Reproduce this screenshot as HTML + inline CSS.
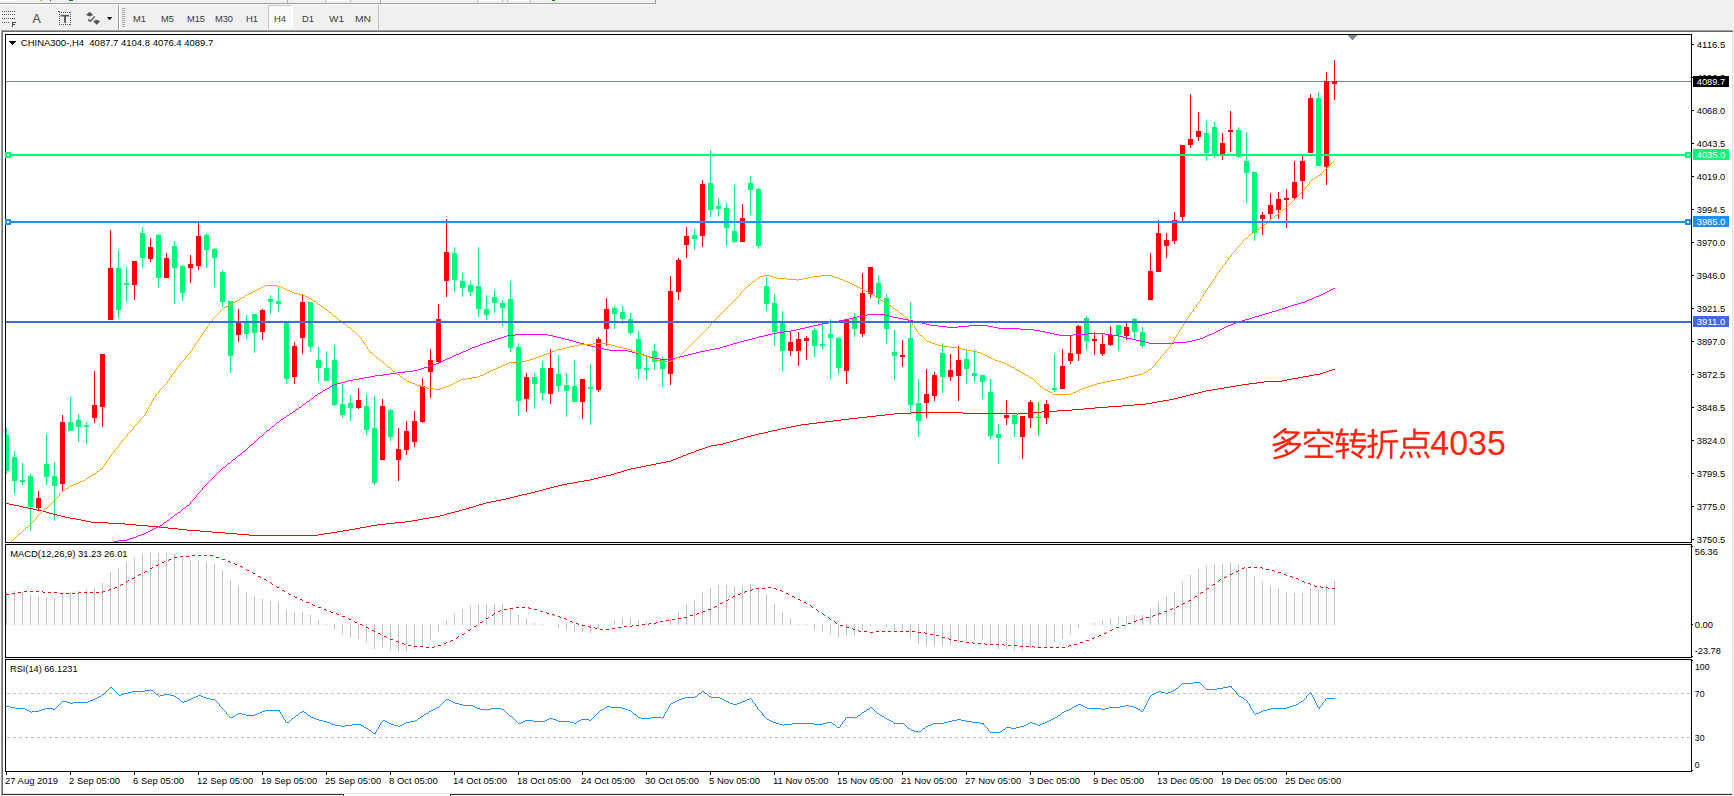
<!DOCTYPE html><html><head><meta charset="utf-8"><title>chart</title><style>html,body{margin:0;padding:0;background:#f0f0f0;overflow:hidden}svg{display:block}text{font-family:"Liberation Sans",sans-serif}</style></head><body>
<svg width="1734" height="796" viewBox="0 0 1734 796">
<rect x="0" y="0" width="1734" height="796" fill="#f0f0f0"/>
<g shape-rendering="crispEdges">
<rect x="0" y="3" width="655" height="1" fill="#a0a0a0"/>
<rect x="0" y="0" width="17" height="1" fill="#ffffff"/>
<rect x="325" y="0" width="25" height="1" fill="#ffffff"/><rect x="325" y="0" width="1" height="2" fill="#b8b8b8"/><rect x="350" y="0" width="1" height="2" fill="#b8b8b8"/>
<rect x="477" y="0" width="25" height="1" fill="#ffffff"/><rect x="477" y="0" width="1" height="2" fill="#b8b8b8"/><rect x="502" y="0" width="1" height="2" fill="#b8b8b8"/>
<rect x="507" y="0" width="23" height="1" fill="#ffffff"/><rect x="507" y="0" width="1" height="2" fill="#b8b8b8"/><rect x="530" y="0" width="1" height="2" fill="#b8b8b8"/>
<rect x="0" y="4" width="655" height="1" fill="#fafafa"/>
<rect x="40" y="0" width="2" height="1" fill="#e0b040"/><rect x="50" y="0" width="1" height="1" fill="#555"/>
<rect x="69" y="0" width="4" height="1" fill="#008000"/>
<rect x="552" y="0" width="3" height="1" fill="#008000"/>
<rect x="655" y="0" width="1" height="4" fill="#a0a0a0"/>
<rect x="287" y="0" width="1" height="3" fill="#b0b0b0"/>
<rect x="380" y="0" width="1" height="3" fill="#b0b0b0"/>
</g>
<g shape-rendering="crispEdges">
<rect x="0" y="30" width="1733" height="764" fill="#ffffff"/>
<rect x="1" y="30" width="1732" height="1" fill="#a0a0a0"/>
<rect x="2" y="31" width="1731" height="1" fill="#696969"/>
<rect x="0" y="30" width="1" height="766" fill="#f8f8f8"/>
<rect x="1" y="31" width="1" height="765" fill="#a0a0a0"/>
<rect x="2" y="32" width="1" height="763" fill="#696969"/>
<rect x="1733" y="30" width="1" height="766" fill="#f4f4f4"/>
<rect x="1732" y="32" width="1" height="762" fill="#e3e3e3"/>
<rect x="3" y="793" width="1729" height="1" fill="#e4e4e4"/>
<rect x="3" y="794" width="1729" height="2" fill="#f4f4f4"/>
<rect x="2" y="794" width="342" height="1" fill="#303030"/>
<rect x="343" y="794" width="1" height="2" fill="#303030"/>
<rect x="450" y="794" width="1282" height="1" fill="#303030"/>
<rect x="450" y="794" width="1" height="2" fill="#303030"/>
<rect x="344" y="794" width="106" height="2" fill="#ffffff"/>
</g>
<g shape-rendering="crispEdges">
<rect x="118" y="5" width="1" height="25" fill="#a0a0a0"/><rect x="119" y="5" width="1" height="25" fill="#ffffff"/>
<rect x="122" y="8" width="3" height="1" fill="#a8a8a8"/>
<rect x="122" y="10" width="3" height="1" fill="#a8a8a8"/>
<rect x="122" y="12" width="3" height="1" fill="#a8a8a8"/>
<rect x="122" y="14" width="3" height="1" fill="#a8a8a8"/>
<rect x="122" y="16" width="3" height="1" fill="#a8a8a8"/>
<rect x="122" y="18" width="3" height="1" fill="#a8a8a8"/>
<rect x="122" y="20" width="3" height="1" fill="#a8a8a8"/>
<rect x="122" y="22" width="3" height="1" fill="#a8a8a8"/>
<rect x="122" y="24" width="3" height="1" fill="#a8a8a8"/>
<rect x="122" y="26" width="3" height="1" fill="#a8a8a8"/>
<rect x="378" y="5" width="1" height="25" fill="#c0c0c0"/>
<rect x="268" y="5" width="25" height="24" fill="#f9f9f9"/><rect x="268" y="5" width="25" height="1" fill="#c8c8c8"/><rect x="268" y="5" width="1" height="24" fill="#c8c8c8"/><rect x="292" y="5" width="1" height="24" fill="#ffffff"/>
<rect x="2" y="11" width="1" height="1" fill="#555"/>
<rect x="4" y="11" width="1" height="1" fill="#555"/>
<rect x="6" y="11" width="1" height="1" fill="#555"/>
<rect x="8" y="11" width="1" height="1" fill="#555"/>
<rect x="10" y="11" width="1" height="1" fill="#555"/>
<rect x="12" y="11" width="1" height="1" fill="#555"/>
<rect x="14" y="11" width="1" height="1" fill="#555"/>
<rect x="2" y="14" width="1" height="1" fill="#555"/>
<rect x="4" y="14" width="1" height="1" fill="#555"/>
<rect x="6" y="14" width="1" height="1" fill="#555"/>
<rect x="8" y="14" width="1" height="1" fill="#555"/>
<rect x="10" y="14" width="1" height="1" fill="#555"/>
<rect x="12" y="14" width="1" height="1" fill="#555"/>
<rect x="14" y="14" width="1" height="1" fill="#555"/>
<rect x="2" y="18" width="1" height="1" fill="#555"/>
<rect x="4" y="18" width="1" height="1" fill="#555"/>
<rect x="6" y="18" width="1" height="1" fill="#555"/>
<rect x="8" y="18" width="1" height="1" fill="#555"/>
<rect x="10" y="18" width="1" height="1" fill="#555"/>
<rect x="12" y="18" width="1" height="1" fill="#555"/>
<rect x="14" y="18" width="1" height="1" fill="#555"/>
<rect x="2" y="22" width="1" height="1" fill="#555"/>
<rect x="4" y="22" width="1" height="1" fill="#555"/>
<rect x="6" y="22" width="1" height="1" fill="#555"/>
<rect x="8" y="22" width="1" height="1" fill="#555"/>
<rect x="12" y="22" width="1" height="5" fill="#444"/><rect x="12" y="22" width="4" height="1" fill="#444"/><rect x="12" y="24" width="3" height="1" fill="#444"/>
<rect x="59" y="12" width="1" height="1" fill="#555"/><rect x="59" y="24" width="1" height="1" fill="#555"/>
<rect x="61" y="12" width="1" height="1" fill="#555"/><rect x="61" y="24" width="1" height="1" fill="#555"/>
<rect x="63" y="12" width="1" height="1" fill="#555"/><rect x="63" y="24" width="1" height="1" fill="#555"/>
<rect x="65" y="12" width="1" height="1" fill="#555"/><rect x="65" y="24" width="1" height="1" fill="#555"/>
<rect x="67" y="12" width="1" height="1" fill="#555"/><rect x="67" y="24" width="1" height="1" fill="#555"/>
<rect x="69" y="12" width="1" height="1" fill="#555"/><rect x="69" y="24" width="1" height="1" fill="#555"/>
<rect x="59" y="12" width="1" height="1" fill="#555"/><rect x="70" y="12" width="1" height="1" fill="#555"/>
<rect x="59" y="14" width="1" height="1" fill="#555"/><rect x="70" y="14" width="1" height="1" fill="#555"/>
<rect x="59" y="16" width="1" height="1" fill="#555"/><rect x="70" y="16" width="1" height="1" fill="#555"/>
<rect x="59" y="18" width="1" height="1" fill="#555"/><rect x="70" y="18" width="1" height="1" fill="#555"/>
<rect x="59" y="20" width="1" height="1" fill="#555"/><rect x="70" y="20" width="1" height="1" fill="#555"/>
<rect x="59" y="22" width="1" height="1" fill="#555"/><rect x="70" y="22" width="1" height="1" fill="#555"/>
<rect x="59" y="24" width="1" height="1" fill="#555"/><rect x="70" y="24" width="1" height="1" fill="#555"/>
<rect x="58" y="11" width="2" height="1" fill="#555"/>
</g>
<text x="32.5" y="22.7" font-size="12.6" fill="#555" stroke="#555" stroke-width="0.2" textLength="8.2" lengthAdjust="spacingAndGlyphs">A</text>
<rect x="60.8" y="14.9" width="8.3" height="1.6" fill="#555"/><rect x="64.1" y="15" width="1.9" height="7.8" fill="#555"/>
<path d="M86 15 L89.6 11.8 L93.2 15 L89.6 16.6 Z M93.2 21.2 L96.7 19.8 L100.2 21.2 L96.7 24.8 Z" fill="#555"/><path d="M88.1 19.4 L90.3 21.3 L94.8 16.4" stroke="#555" stroke-width="1.4" fill="none"/>
<path d="M106.8 17 h5.6 l-2.8 3.2 z" fill="#1a1a1a"/>
<text x="133" y="22" font-size="9.8" fill="#3c3c3c" textLength="13" lengthAdjust="spacingAndGlyphs">M1</text>
<text x="161" y="22" font-size="9.8" fill="#3c3c3c" textLength="13" lengthAdjust="spacingAndGlyphs">M5</text>
<text x="187" y="22" font-size="9.8" fill="#3c3c3c" textLength="18" lengthAdjust="spacingAndGlyphs">M15</text>
<text x="215" y="22" font-size="9.8" fill="#3c3c3c" textLength="18" lengthAdjust="spacingAndGlyphs">M30</text>
<text x="246" y="22" font-size="9.8" fill="#3c3c3c" textLength="12" lengthAdjust="spacingAndGlyphs">H1</text>
<text x="274" y="22" font-size="9.8" fill="#3c3c3c" textLength="12" lengthAdjust="spacingAndGlyphs">H4</text>
<text x="302" y="22" font-size="9.8" fill="#3c3c3c" textLength="12" lengthAdjust="spacingAndGlyphs">D1</text>
<text x="329" y="22" font-size="9.8" fill="#3c3c3c" textLength="15" lengthAdjust="spacingAndGlyphs">W1</text>
<text x="355" y="22" font-size="9.8" fill="#3c3c3c" textLength="16" lengthAdjust="spacingAndGlyphs">MN</text>
<g shape-rendering="crispEdges">
<rect x="5" y="34" width="1687" height="1" fill="#000"/>
<rect x="5" y="34" width="1" height="738" fill="#000"/>
<rect x="1691" y="34" width="1" height="738" fill="#000"/>
<rect x="5" y="542" width="1687" height="1" fill="#000"/>
<rect x="5" y="543" width="1687" height="1" fill="#f0f0f0"/>
<rect x="5" y="544" width="1687" height="1" fill="#000"/>
<rect x="5" y="657" width="1687" height="1" fill="#000"/>
<rect x="5" y="658" width="1687" height="1" fill="#f0f0f0"/>
<rect x="5" y="659" width="1687" height="1" fill="#000"/>
<rect x="5" y="771" width="1687" height="1" fill="#000"/>
<rect x="1692" y="44" width="2" height="1" fill="#000"/>
<rect x="1692" y="77" width="2" height="1" fill="#000"/>
<rect x="1692" y="110" width="2" height="1" fill="#000"/>
<rect x="1692" y="143" width="2" height="1" fill="#000"/>
<rect x="1692" y="176" width="2" height="1" fill="#000"/>
<rect x="1692" y="209" width="2" height="1" fill="#000"/>
<rect x="1692" y="242" width="2" height="1" fill="#000"/>
<rect x="1692" y="275" width="2" height="1" fill="#000"/>
<rect x="1692" y="308" width="2" height="1" fill="#000"/>
<rect x="1692" y="341" width="2" height="1" fill="#000"/>
<rect x="1692" y="374" width="2" height="1" fill="#000"/>
<rect x="1692" y="407" width="2" height="1" fill="#000"/>
<rect x="1692" y="440" width="2" height="1" fill="#000"/>
<rect x="1692" y="473" width="2" height="1" fill="#000"/>
<rect x="1692" y="506" width="2" height="1" fill="#000"/>
<rect x="1692" y="539" width="2" height="1" fill="#000"/>
<rect x="1692" y="546" width="1" height="1" fill="#000"/>
<rect x="1692" y="624" width="1" height="1" fill="#000"/>
<rect x="1692" y="656" width="1" height="1" fill="#000"/>
<rect x="1692" y="660" width="1" height="1" fill="#000"/>
<rect x="1692" y="770" width="1" height="1" fill="#000"/>
<rect x="6" y="772" width="1" height="3" fill="#000"/>
<rect x="70" y="772" width="1" height="3" fill="#000"/>
<rect x="134" y="772" width="1" height="3" fill="#000"/>
<rect x="198" y="772" width="1" height="3" fill="#000"/>
<rect x="262" y="772" width="1" height="3" fill="#000"/>
<rect x="326" y="772" width="1" height="3" fill="#000"/>
<rect x="390" y="772" width="1" height="3" fill="#000"/>
<rect x="454" y="772" width="1" height="3" fill="#000"/>
<rect x="518" y="772" width="1" height="3" fill="#000"/>
<rect x="582" y="772" width="1" height="3" fill="#000"/>
<rect x="646" y="772" width="1" height="3" fill="#000"/>
<rect x="710" y="772" width="1" height="3" fill="#000"/>
<rect x="774" y="772" width="1" height="3" fill="#000"/>
<rect x="838" y="772" width="1" height="3" fill="#000"/>
<rect x="902" y="772" width="1" height="3" fill="#000"/>
<rect x="966" y="772" width="1" height="3" fill="#000"/>
<rect x="1030" y="772" width="1" height="3" fill="#000"/>
<rect x="1094" y="772" width="1" height="3" fill="#000"/>
<rect x="1158" y="772" width="1" height="3" fill="#000"/>
<rect x="1222" y="772" width="1" height="3" fill="#000"/>
<rect x="1286" y="772" width="1" height="3" fill="#000"/>
</g>
<clipPath id="cm"><rect x="6" y="35" width="1685" height="507"/></clipPath>
<g shape-rendering="crispEdges" clip-path="url(#cm)">
<rect x="6" y="81" width="1685" height="1" fill="#778899"/>
</g>
<g shape-rendering="crispEdges" clip-path="url(#cm)">
<rect x="6" y="428" width="1" height="46" fill="#00F977"/><rect x="4" y="435" width="5" height="36" fill="#00F977"/>
<rect x="14" y="451" width="1" height="43" fill="#00F977"/><rect x="12" y="457" width="5" height="24" fill="#00F977"/>
<rect x="22" y="463" width="1" height="22" fill="#00F977"/><rect x="20" y="480" width="5" height="2" fill="#00F977"/>
<rect x="30" y="474" width="1" height="57" fill="#00F977"/><rect x="28" y="476" width="5" height="31" fill="#00F977"/>
<rect x="38" y="491" width="1" height="19" fill="#FF0000"/><rect x="36" y="498" width="5" height="10" fill="#FF0000"/>
<rect x="46" y="434" width="1" height="51" fill="#00F977"/><rect x="44" y="464" width="5" height="13" fill="#00F977"/>
<rect x="54" y="462" width="1" height="59" fill="#00F977"/><rect x="52" y="476" width="5" height="10" fill="#00F977"/>
<rect x="62" y="415" width="1" height="76" fill="#FF0000"/><rect x="60" y="422" width="5" height="62" fill="#FF0000"/>
<rect x="70" y="397" width="1" height="34" fill="#00F977"/><rect x="68" y="422" width="5" height="9" fill="#00F977"/>
<rect x="78" y="414" width="1" height="28" fill="#00F977"/><rect x="76" y="420" width="5" height="7" fill="#00F977"/>
<rect x="86" y="422" width="1" height="22" fill="#00F977"/><rect x="84" y="425" width="5" height="2" fill="#00F977"/>
<rect x="94" y="371" width="1" height="52" fill="#FF0000"/><rect x="92" y="405" width="5" height="13" fill="#FF0000"/>
<rect x="102" y="354" width="1" height="73" fill="#FF0000"/><rect x="100" y="354" width="5" height="53" fill="#FF0000"/>
<rect x="110" y="230" width="1" height="90" fill="#FF0000"/><rect x="108" y="268" width="5" height="52" fill="#FF0000"/>
<rect x="118" y="250" width="1" height="68" fill="#00F977"/><rect x="116" y="268" width="5" height="42" fill="#00F977"/>
<rect x="126" y="267" width="1" height="35" fill="#00F977"/><rect x="124" y="283" width="5" height="2" fill="#00F977"/>
<rect x="134" y="261" width="1" height="39" fill="#FF0000"/><rect x="132" y="261" width="5" height="24" fill="#FF0000"/>
<rect x="142" y="227" width="1" height="41" fill="#00F977"/><rect x="140" y="233" width="5" height="25" fill="#00F977"/>
<rect x="150" y="238" width="1" height="24" fill="#FF0000"/><rect x="148" y="247" width="5" height="12" fill="#FF0000"/>
<rect x="158" y="234" width="1" height="54" fill="#00F977"/><rect x="156" y="235" width="5" height="43" fill="#00F977"/>
<rect x="166" y="253" width="1" height="25" fill="#FF0000"/><rect x="164" y="258" width="5" height="20" fill="#FF0000"/>
<rect x="174" y="241" width="1" height="63" fill="#00F977"/><rect x="172" y="246" width="5" height="22" fill="#00F977"/>
<rect x="182" y="265" width="1" height="36" fill="#00F977"/><rect x="180" y="266" width="5" height="27" fill="#00F977"/>
<rect x="190" y="255" width="1" height="28" fill="#FF0000"/><rect x="188" y="264" width="5" height="4" fill="#FF0000"/>
<rect x="198" y="222" width="1" height="48" fill="#FF0000"/><rect x="196" y="236" width="5" height="30" fill="#FF0000"/>
<rect x="206" y="233" width="1" height="35" fill="#00F977"/><rect x="204" y="235" width="5" height="15" fill="#00F977"/>
<rect x="214" y="248" width="1" height="39" fill="#00F977"/><rect x="212" y="249" width="5" height="9" fill="#00F977"/>
<rect x="222" y="270" width="1" height="37" fill="#00F977"/><rect x="220" y="272" width="5" height="30" fill="#00F977"/>
<rect x="230" y="301" width="1" height="72" fill="#00F977"/><rect x="228" y="301" width="5" height="55" fill="#00F977"/>
<rect x="238" y="309" width="1" height="33" fill="#FF0000"/><rect x="236" y="323" width="5" height="12" fill="#FF0000"/>
<rect x="246" y="315" width="1" height="24" fill="#00F977"/><rect x="244" y="323" width="5" height="11" fill="#00F977"/>
<rect x="254" y="314" width="1" height="39" fill="#00F977"/><rect x="252" y="314" width="5" height="19" fill="#00F977"/>
<rect x="262" y="309" width="1" height="31" fill="#FF0000"/><rect x="260" y="310" width="5" height="22" fill="#FF0000"/>
<rect x="270" y="295" width="1" height="19" fill="#00F977"/><rect x="268" y="299" width="5" height="3" fill="#00F977"/>
<rect x="278" y="287" width="1" height="25" fill="#00F977"/><rect x="276" y="301" width="5" height="3" fill="#00F977"/>
<rect x="286" y="323" width="1" height="61" fill="#00F977"/><rect x="284" y="323" width="5" height="56" fill="#00F977"/>
<rect x="294" y="342" width="1" height="42" fill="#FF0000"/><rect x="292" y="346" width="5" height="31" fill="#FF0000"/>
<rect x="302" y="294" width="1" height="60" fill="#FF0000"/><rect x="300" y="302" width="5" height="36" fill="#FF0000"/>
<rect x="310" y="302" width="1" height="50" fill="#00F977"/><rect x="308" y="302" width="5" height="45" fill="#00F977"/>
<rect x="318" y="347" width="1" height="35" fill="#00F977"/><rect x="316" y="360" width="5" height="8" fill="#00F977"/>
<rect x="326" y="351" width="1" height="30" fill="#00F977"/><rect x="324" y="368" width="5" height="13" fill="#00F977"/>
<rect x="334" y="345" width="1" height="61" fill="#00F977"/><rect x="332" y="360" width="5" height="45" fill="#00F977"/>
<rect x="342" y="384" width="1" height="34" fill="#00F977"/><rect x="340" y="404" width="5" height="11" fill="#00F977"/>
<rect x="350" y="395" width="1" height="26" fill="#00F977"/><rect x="348" y="403" width="5" height="5" fill="#00F977"/>
<rect x="358" y="388" width="1" height="21" fill="#FF0000"/><rect x="356" y="400" width="5" height="8" fill="#FF0000"/>
<rect x="366" y="394" width="1" height="41" fill="#00F977"/><rect x="364" y="406" width="5" height="24" fill="#00F977"/>
<rect x="374" y="396" width="1" height="89" fill="#00F977"/><rect x="372" y="428" width="5" height="55" fill="#00F977"/>
<rect x="382" y="399" width="1" height="61" fill="#FF0000"/><rect x="380" y="406" width="5" height="54" fill="#FF0000"/>
<rect x="390" y="409" width="1" height="32" fill="#00F977"/><rect x="388" y="410" width="5" height="27" fill="#00F977"/>
<rect x="398" y="428" width="1" height="53" fill="#FF0000"/><rect x="396" y="449" width="5" height="11" fill="#FF0000"/>
<rect x="406" y="421" width="1" height="34" fill="#FF0000"/><rect x="404" y="431" width="5" height="19" fill="#FF0000"/>
<rect x="414" y="411" width="1" height="36" fill="#FF0000"/><rect x="412" y="421" width="5" height="21" fill="#FF0000"/>
<rect x="422" y="378" width="1" height="45" fill="#FF0000"/><rect x="420" y="386" width="5" height="36" fill="#FF0000"/>
<rect x="430" y="349" width="1" height="49" fill="#FF0000"/><rect x="428" y="360" width="5" height="12" fill="#FF0000"/>
<rect x="438" y="304" width="1" height="60" fill="#FF0000"/><rect x="436" y="319" width="5" height="43" fill="#FF0000"/>
<rect x="446" y="219" width="1" height="78" fill="#FF0000"/><rect x="444" y="252" width="5" height="29" fill="#FF0000"/>
<rect x="454" y="247" width="1" height="45" fill="#00F977"/><rect x="452" y="253" width="5" height="27" fill="#00F977"/>
<rect x="462" y="273" width="1" height="24" fill="#00F977"/><rect x="460" y="281" width="5" height="7" fill="#00F977"/>
<rect x="470" y="281" width="1" height="15" fill="#00F977"/><rect x="468" y="285" width="5" height="7" fill="#00F977"/>
<rect x="478" y="247" width="1" height="70" fill="#00F977"/><rect x="476" y="286" width="5" height="23" fill="#00F977"/>
<rect x="486" y="295" width="1" height="25" fill="#00F977"/><rect x="484" y="309" width="5" height="6" fill="#00F977"/>
<rect x="494" y="290" width="1" height="23" fill="#00F977"/><rect x="492" y="297" width="5" height="6" fill="#00F977"/>
<rect x="502" y="300" width="1" height="26" fill="#00F977"/><rect x="500" y="303" width="5" height="5" fill="#00F977"/>
<rect x="510" y="281" width="1" height="71" fill="#00F977"/><rect x="508" y="299" width="5" height="49" fill="#00F977"/>
<rect x="518" y="343" width="1" height="73" fill="#00F977"/><rect x="516" y="347" width="5" height="54" fill="#00F977"/>
<rect x="526" y="373" width="1" height="39" fill="#FF0000"/><rect x="524" y="377" width="5" height="22" fill="#FF0000"/>
<rect x="534" y="373" width="1" height="36" fill="#00F977"/><rect x="532" y="377" width="5" height="7" fill="#00F977"/>
<rect x="542" y="361" width="1" height="40" fill="#00F977"/><rect x="540" y="368" width="5" height="25" fill="#00F977"/>
<rect x="550" y="349" width="1" height="55" fill="#FF0000"/><rect x="548" y="368" width="5" height="26" fill="#FF0000"/>
<rect x="558" y="355" width="1" height="37" fill="#00F977"/><rect x="556" y="374" width="5" height="12" fill="#00F977"/>
<rect x="566" y="373" width="1" height="44" fill="#00F977"/><rect x="564" y="385" width="5" height="6" fill="#00F977"/>
<rect x="574" y="360" width="1" height="42" fill="#00F977"/><rect x="572" y="386" width="5" height="16" fill="#00F977"/>
<rect x="582" y="379" width="1" height="40" fill="#FF0000"/><rect x="580" y="379" width="5" height="23" fill="#FF0000"/>
<rect x="590" y="364" width="1" height="61" fill="#00F977"/><rect x="588" y="387" width="5" height="2" fill="#00F977"/>
<rect x="598" y="337" width="1" height="55" fill="#FF0000"/><rect x="596" y="339" width="5" height="51" fill="#FF0000"/>
<rect x="606" y="298" width="1" height="48" fill="#FF0000"/><rect x="604" y="309" width="5" height="20" fill="#FF0000"/>
<rect x="614" y="306" width="1" height="23" fill="#00F977"/><rect x="612" y="308" width="5" height="6" fill="#00F977"/>
<rect x="622" y="306" width="1" height="18" fill="#00F977"/><rect x="620" y="312" width="5" height="7" fill="#00F977"/>
<rect x="630" y="313" width="1" height="22" fill="#00F977"/><rect x="628" y="319" width="5" height="14" fill="#00F977"/>
<rect x="638" y="331" width="1" height="48" fill="#00F977"/><rect x="636" y="339" width="5" height="30" fill="#00F977"/>
<rect x="646" y="356" width="1" height="24" fill="#00F977"/><rect x="644" y="368" width="5" height="2" fill="#00F977"/>
<rect x="654" y="344" width="1" height="26" fill="#00F977"/><rect x="652" y="351" width="5" height="11" fill="#00F977"/>
<rect x="662" y="357" width="1" height="30" fill="#00F977"/><rect x="660" y="359" width="5" height="10" fill="#00F977"/>
<rect x="670" y="276" width="1" height="109" fill="#FF0000"/><rect x="668" y="291" width="5" height="83" fill="#FF0000"/>
<rect x="678" y="258" width="1" height="42" fill="#FF0000"/><rect x="676" y="260" width="5" height="32" fill="#FF0000"/>
<rect x="686" y="227" width="1" height="31" fill="#FF0000"/><rect x="684" y="236" width="5" height="9" fill="#FF0000"/>
<rect x="694" y="229" width="1" height="21" fill="#00F977"/><rect x="692" y="235" width="5" height="4" fill="#00F977"/>
<rect x="702" y="180" width="1" height="67" fill="#FF0000"/><rect x="700" y="184" width="5" height="52" fill="#FF0000"/>
<rect x="710" y="150" width="1" height="67" fill="#00F977"/><rect x="708" y="183" width="5" height="27" fill="#00F977"/>
<rect x="718" y="198" width="1" height="19" fill="#00F977"/><rect x="716" y="206" width="5" height="3" fill="#00F977"/>
<rect x="726" y="203" width="1" height="43" fill="#00F977"/><rect x="724" y="208" width="5" height="20" fill="#00F977"/>
<rect x="734" y="185" width="1" height="58" fill="#00F977"/><rect x="732" y="231" width="5" height="11" fill="#00F977"/>
<rect x="742" y="204" width="1" height="38" fill="#FF0000"/><rect x="740" y="218" width="5" height="24" fill="#FF0000"/>
<rect x="750" y="176" width="1" height="39" fill="#00F977"/><rect x="748" y="183" width="5" height="7" fill="#00F977"/>
<rect x="758" y="188" width="1" height="61" fill="#00F977"/><rect x="756" y="189" width="5" height="57" fill="#00F977"/>
<rect x="766" y="277" width="1" height="34" fill="#00F977"/><rect x="764" y="286" width="5" height="18" fill="#00F977"/>
<rect x="774" y="294" width="1" height="52" fill="#00F977"/><rect x="772" y="303" width="5" height="29" fill="#00F977"/>
<rect x="782" y="311" width="1" height="60" fill="#00F977"/><rect x="780" y="322" width="5" height="29" fill="#00F977"/>
<rect x="790" y="331" width="1" height="25" fill="#FF0000"/><rect x="788" y="342" width="5" height="9" fill="#FF0000"/>
<rect x="798" y="332" width="1" height="34" fill="#FF0000"/><rect x="796" y="339" width="5" height="12" fill="#FF0000"/>
<rect x="806" y="336" width="1" height="24" fill="#FF0000"/><rect x="804" y="338" width="5" height="3" fill="#FF0000"/>
<rect x="814" y="327" width="1" height="30" fill="#00F977"/><rect x="812" y="330" width="5" height="16" fill="#00F977"/>
<rect x="822" y="323" width="1" height="26" fill="#00F977"/><rect x="820" y="344" width="5" height="2" fill="#00F977"/>
<rect x="830" y="319" width="1" height="60" fill="#00F977"/><rect x="828" y="334" width="5" height="4" fill="#00F977"/>
<rect x="838" y="337" width="1" height="37" fill="#00F977"/><rect x="836" y="338" width="5" height="30" fill="#00F977"/>
<rect x="846" y="319" width="1" height="65" fill="#FF0000"/><rect x="844" y="319" width="5" height="52" fill="#FF0000"/>
<rect x="854" y="313" width="1" height="24" fill="#00F977"/><rect x="852" y="318" width="5" height="11" fill="#00F977"/>
<rect x="862" y="273" width="1" height="64" fill="#FF0000"/><rect x="860" y="293" width="5" height="41" fill="#FF0000"/>
<rect x="870" y="267" width="1" height="31" fill="#FF0000"/><rect x="868" y="267" width="5" height="27" fill="#FF0000"/>
<rect x="878" y="275" width="1" height="30" fill="#00F977"/><rect x="876" y="283" width="5" height="15" fill="#00F977"/>
<rect x="886" y="294" width="1" height="50" fill="#00F977"/><rect x="884" y="298" width="5" height="31" fill="#00F977"/>
<rect x="894" y="330" width="1" height="50" fill="#00F977"/><rect x="892" y="352" width="5" height="4" fill="#00F977"/>
<rect x="902" y="340" width="1" height="27" fill="#FF0000"/><rect x="900" y="355" width="5" height="2" fill="#FF0000"/>
<rect x="910" y="302" width="1" height="110" fill="#00F977"/><rect x="908" y="338" width="5" height="67" fill="#00F977"/>
<rect x="918" y="379" width="1" height="58" fill="#00F977"/><rect x="916" y="403" width="5" height="18" fill="#00F977"/>
<rect x="926" y="369" width="1" height="49" fill="#FF0000"/><rect x="924" y="394" width="5" height="9" fill="#FF0000"/>
<rect x="934" y="372" width="1" height="29" fill="#FF0000"/><rect x="932" y="375" width="5" height="21" fill="#FF0000"/>
<rect x="942" y="343" width="1" height="50" fill="#00F977"/><rect x="940" y="353" width="5" height="24" fill="#00F977"/>
<rect x="950" y="354" width="1" height="27" fill="#FF0000"/><rect x="948" y="370" width="5" height="7" fill="#FF0000"/>
<rect x="958" y="346" width="1" height="55" fill="#FF0000"/><rect x="956" y="360" width="5" height="16" fill="#FF0000"/>
<rect x="966" y="350" width="1" height="34" fill="#00F977"/><rect x="964" y="359" width="5" height="10" fill="#00F977"/>
<rect x="974" y="349" width="1" height="33" fill="#00F977"/><rect x="972" y="373" width="5" height="3" fill="#00F977"/>
<rect x="982" y="375" width="1" height="24" fill="#00F977"/><rect x="980" y="375" width="5" height="7" fill="#00F977"/>
<rect x="990" y="379" width="1" height="60" fill="#00F977"/><rect x="988" y="392" width="5" height="44" fill="#00F977"/>
<rect x="998" y="424" width="1" height="40" fill="#00F977"/><rect x="996" y="434" width="5" height="4" fill="#00F977"/>
<rect x="1006" y="400" width="1" height="25" fill="#FF0000"/><rect x="1004" y="415" width="5" height="3" fill="#FF0000"/>
<rect x="1014" y="413" width="1" height="24" fill="#00F977"/><rect x="1012" y="415" width="5" height="9" fill="#00F977"/>
<rect x="1022" y="416" width="1" height="43" fill="#FF0000"/><rect x="1020" y="416" width="5" height="21" fill="#FF0000"/>
<rect x="1030" y="400" width="1" height="28" fill="#FF0000"/><rect x="1028" y="402" width="5" height="16" fill="#FF0000"/>
<rect x="1038" y="402" width="1" height="34" fill="#00E800"/><rect x="1036" y="417" width="5" height="1" fill="#00E800"/>
<rect x="1046" y="400" width="1" height="24" fill="#FF0000"/><rect x="1044" y="404" width="5" height="14" fill="#FF0000"/>
<rect x="1054" y="354" width="1" height="38" fill="#00F977"/><rect x="1052" y="388" width="5" height="2" fill="#00F977"/>
<rect x="1062" y="349" width="1" height="40" fill="#FF0000"/><rect x="1060" y="366" width="5" height="23" fill="#FF0000"/>
<rect x="1070" y="336" width="1" height="28" fill="#FF0000"/><rect x="1068" y="353" width="5" height="8" fill="#FF0000"/>
<rect x="1078" y="325" width="1" height="36" fill="#FF0000"/><rect x="1076" y="326" width="5" height="28" fill="#FF0000"/>
<rect x="1086" y="316" width="1" height="34" fill="#00F977"/><rect x="1084" y="318" width="5" height="23" fill="#00F977"/>
<rect x="1094" y="332" width="1" height="23" fill="#FF0000"/><rect x="1092" y="339" width="5" height="2" fill="#FF0000"/>
<rect x="1102" y="333" width="1" height="23" fill="#FF0000"/><rect x="1100" y="344" width="5" height="10" fill="#FF0000"/>
<rect x="1110" y="326" width="1" height="20" fill="#FF0000"/><rect x="1108" y="335" width="5" height="10" fill="#FF0000"/>
<rect x="1118" y="325" width="1" height="26" fill="#00F977"/><rect x="1116" y="325" width="5" height="10" fill="#00F977"/>
<rect x="1126" y="323" width="1" height="17" fill="#FF0000"/><rect x="1124" y="327" width="5" height="9" fill="#FF0000"/>
<rect x="1134" y="318" width="1" height="21" fill="#00F977"/><rect x="1132" y="319" width="5" height="13" fill="#00F977"/>
<rect x="1142" y="327" width="1" height="21" fill="#00F977"/><rect x="1140" y="332" width="5" height="14" fill="#00F977"/>
<rect x="1150" y="253" width="1" height="47" fill="#FF0000"/><rect x="1148" y="271" width="5" height="29" fill="#FF0000"/>
<rect x="1158" y="220" width="1" height="52" fill="#FF0000"/><rect x="1156" y="233" width="5" height="39" fill="#FF0000"/>
<rect x="1166" y="233" width="1" height="25" fill="#FF0000"/><rect x="1164" y="240" width="5" height="6" fill="#FF0000"/>
<rect x="1174" y="212" width="1" height="32" fill="#FF0000"/><rect x="1172" y="220" width="5" height="21" fill="#FF0000"/>
<rect x="1182" y="145" width="1" height="76" fill="#FF0000"/><rect x="1180" y="145" width="5" height="72" fill="#FF0000"/>
<rect x="1190" y="94" width="1" height="54" fill="#FF0000"/><rect x="1188" y="139" width="5" height="6" fill="#FF0000"/>
<rect x="1198" y="112" width="1" height="29" fill="#FF0000"/><rect x="1196" y="131" width="5" height="6" fill="#FF0000"/>
<rect x="1206" y="121" width="1" height="40" fill="#00F977"/><rect x="1204" y="133" width="5" height="20" fill="#00F977"/>
<rect x="1214" y="122" width="1" height="36" fill="#00F977"/><rect x="1212" y="127" width="5" height="27" fill="#00F977"/>
<rect x="1222" y="133" width="1" height="27" fill="#FF0000"/><rect x="1220" y="143" width="5" height="11" fill="#FF0000"/>
<rect x="1230" y="111" width="1" height="41" fill="#FF0000"/><rect x="1228" y="130" width="5" height="2" fill="#FF0000"/>
<rect x="1238" y="127" width="1" height="31" fill="#00F977"/><rect x="1236" y="130" width="5" height="27" fill="#00F977"/>
<rect x="1246" y="132" width="1" height="71" fill="#00F977"/><rect x="1244" y="161" width="5" height="12" fill="#00F977"/>
<rect x="1254" y="172" width="1" height="69" fill="#00F977"/><rect x="1252" y="172" width="5" height="61" fill="#00F977"/>
<rect x="1262" y="212" width="1" height="23" fill="#FF0000"/><rect x="1260" y="215" width="5" height="4" fill="#FF0000"/>
<rect x="1270" y="193" width="1" height="27" fill="#FF0000"/><rect x="1268" y="205" width="5" height="9" fill="#FF0000"/>
<rect x="1278" y="192" width="1" height="27" fill="#FF0000"/><rect x="1276" y="199" width="5" height="11" fill="#FF0000"/>
<rect x="1286" y="189" width="1" height="39" fill="#FF0000"/><rect x="1284" y="198" width="5" height="2" fill="#FF0000"/>
<rect x="1294" y="161" width="1" height="39" fill="#FF0000"/><rect x="1292" y="182" width="5" height="16" fill="#FF0000"/>
<rect x="1302" y="156" width="1" height="43" fill="#FF0000"/><rect x="1300" y="161" width="5" height="20" fill="#FF0000"/>
<rect x="1310" y="94" width="1" height="59" fill="#FF0000"/><rect x="1308" y="98" width="5" height="55" fill="#FF0000"/>
<rect x="1318" y="92" width="1" height="74" fill="#00F977"/><rect x="1316" y="98" width="5" height="68" fill="#00F977"/>
<rect x="1326" y="72" width="1" height="113" fill="#FF0000"/><rect x="1324" y="81" width="5" height="86" fill="#FF0000"/>
<rect x="1334" y="60" width="1" height="40" fill="#FF0000"/><rect x="1332" y="81" width="5" height="3" fill="#FF0000"/>
</g>
<g clip-path="url(#cm)" shape-rendering="crispEdges">
<path d="M1332 369h3v1h-3zM1329 370h3v1h-3zM1326 371h3v1h-3zM1323 372h3v1h-3zM1320 373h3v1h-3zM1314 374h6v1h-6zM1309 375h5v1h-5zM1303 376h6v1h-6zM1298 377h5v1h-5zM1292 378h6v1h-6zM1287 379h5v1h-5zM1282 380h5v1h-5zM1264 381h18v1h-18zM1257 382h7v1h-7zM1249 383h8v1h-8zM1242 384h7v1h-7zM1236 385h6v1h-6zM1230 386h6v1h-6zM1224 387h6v1h-6zM1218 388h6v1h-6zM1212 389h6v1h-6zM1206 390h6v1h-6zM1202 391h4v1h-4zM1198 392h4v1h-4zM1194 393h4v1h-4zM1190 394h4v1h-4zM1186 395h4v1h-4zM1182 396h4v1h-4zM1178 397h4v1h-4zM1174 398h4v1h-4zM1169 399h5v1h-5zM1163 400h6v1h-6zM1157 401h6v1h-6zM1152 402h5v1h-5zM1146 403h6v1h-6zM1134 404h12v1h-12zM1122 405h12v1h-12zM1108 406h14v1h-14zM1095 407h13v1h-13zM1084 408h11v1h-11zM1072 409h12v1h-12zM1057 410h15v1h-15zM1042 411h15v1h-15zM911 412h52v1h-52zM1029 412h13v1h-13zM894 413h17v1h-17zM963 413h54v1h-54zM1018 413h11v1h-11zM885 414h9v1h-9zM1017 414h1v1h-1zM876 415h9v1h-9zM867 416h9v1h-9zM858 417h9v1h-9zM849 418h9v1h-9zM841 419h8v1h-8zM833 420h8v1h-8zM825 421h8v1h-8zM817 422h8v1h-8zM809 423h8v1h-8zM801 424h8v1h-8zM796 425h5v1h-5zM791 426h5v1h-5zM786 427h5v1h-5zM781 428h5v1h-5zM777 429h4v1h-4zM772 430h5v1h-5zM768 431h4v1h-4zM764 432h4v1h-4zM759 433h5v1h-5zM755 434h4v1h-4zM751 435h4v1h-4zM747 436h4v1h-4zM744 437h3v1h-3zM740 438h4v1h-4zM737 439h3v1h-3zM733 440h4v1h-4zM730 441h3v1h-3zM726 442h4v1h-4zM723 443h3v1h-3zM717 444h6v1h-6zM711 445h6v1h-6zM708 446h3v1h-3zM705 447h3v1h-3zM702 448h3v1h-3zM699 449h3v1h-3zM696 450h3v1h-3zM694 451h2v1h-2zM691 452h3v1h-3zM688 453h3v1h-3zM686 454h2v1h-2zM683 455h3v1h-3zM681 456h2v1h-2zM678 457h3v1h-3zM676 458h2v1h-2zM673 459h3v1h-3zM671 460h2v1h-2zM666 461h5v1h-5zM661 462h5v1h-5zM656 463h5v1h-5zM651 464h5v1h-5zM646 465h5v1h-5zM641 466h5v1h-5zM636 467h5v1h-5zM631 468h5v1h-5zM627 469h4v1h-4zM624 470h3v1h-3zM621 471h3v1h-3zM617 472h4v1h-4zM614 473h3v1h-3zM611 474h3v1h-3zM606 475h5v1h-5zM602 476h4v1h-4zM598 477h4v1h-4zM594 478h4v1h-4zM590 479h4v1h-4zM584 480h6v1h-6zM578 481h6v1h-6zM573 482h5v1h-5zM567 483h6v1h-6zM562 484h5v1h-5zM558 485h4v1h-4zM554 486h4v1h-4zM550 487h4v1h-4zM546 488h4v1h-4zM543 489h3v1h-3zM539 490h4v1h-4zM535 491h4v1h-4zM531 492h4v1h-4zM527 493h4v1h-4zM522 494h5v1h-5zM518 495h4v1h-4zM514 496h4v1h-4zM510 497h4v1h-4zM506 498h4v1h-4zM501 499h5v1h-5zM496 500h5v1h-5zM491 501h5v1h-5zM486 502h5v1h-5zM6 503h3v1h-3zM483 503h3v1h-3zM9 504h5v1h-5zM479 504h4v1h-4zM14 505h5v1h-5zM476 505h3v1h-3zM19 506h4v1h-4zM473 506h3v1h-3zM23 507h5v1h-5zM469 507h4v1h-4zM28 508h5v1h-5zM466 508h3v1h-3zM33 509h4v1h-4zM462 509h4v1h-4zM37 510h5v1h-5zM459 510h3v1h-3zM42 511h4v1h-4zM455 511h4v1h-4zM46 512h3v1h-3zM451 512h4v1h-4zM49 513h4v1h-4zM447 513h4v1h-4zM53 514h4v1h-4zM444 514h3v1h-3zM57 515h4v1h-4zM440 515h4v1h-4zM61 516h4v1h-4zM435 516h5v1h-5zM65 517h5v1h-5zM429 517h6v1h-6zM70 518h6v1h-6zM423 518h6v1h-6zM76 519h5v1h-5zM418 519h5v1h-5zM81 520h5v1h-5zM412 520h6v1h-6zM86 521h5v1h-5zM405 521h7v1h-7zM91 522h17v1h-17zM395 522h10v1h-10zM108 523h17v1h-17zM386 523h9v1h-9zM125 524h11v1h-11zM377 524h9v1h-9zM136 525h12v1h-12zM371 525h6v1h-6zM148 526h11v1h-11zM366 526h5v1h-5zM159 527h9v1h-9zM360 527h6v1h-6zM168 528h10v1h-10zM355 528h5v1h-5zM178 529h9v1h-9zM349 529h6v1h-6zM187 530h13v1h-13zM343 530h6v1h-6zM200 531h12v1h-12zM337 531h6v1h-6zM212 532h13v1h-13zM331 532h6v1h-6zM225 533h12v1h-12zM324 533h7v1h-7zM237 534h12v1h-12zM318 534h6v1h-6zM249 535h69v1h-69z" fill="#FF0000"/>
<path d="M1333 288h2v1h-2zM1331 289h2v1h-2zM1329 290h2v1h-2zM1327 291h2v1h-2zM1325 292h2v1h-2zM1323 293h2v1h-2zM1321 294h2v1h-2zM1319 295h2v1h-2zM1316 296h3v1h-3zM1314 297h2v1h-2zM1312 298h2v1h-2zM1309 299h3v1h-3zM1307 300h2v1h-2zM1305 301h2v1h-2zM1301 302h4v1h-4zM1298 303h3v1h-3zM1294 304h4v1h-4zM1291 305h3v1h-3zM1288 306h3v1h-3zM1285 307h3v1h-3zM1282 308h3v1h-3zM1279 309h3v1h-3zM1276 310h3v1h-3zM1272 311h4v1h-4zM1269 312h3v1h-3zM1265 313h4v1h-4zM867 314h18v1h-18zM1262 314h3v1h-3zM862 315h5v1h-5zM885 315h4v1h-4zM1259 315h3v1h-3zM857 316h5v1h-5zM889 316h4v1h-4zM1255 316h4v1h-4zM853 317h4v1h-4zM893 317h5v1h-5zM1252 317h3v1h-3zM849 318h4v1h-4zM898 318h5v1h-5zM1249 318h3v1h-3zM845 319h4v1h-4zM903 319h5v1h-5zM1245 319h4v1h-4zM839 320h6v1h-6zM908 320h5v1h-5zM1242 320h3v1h-3zM833 321h6v1h-6zM913 321h4v1h-4zM1239 321h3v1h-3zM828 322h5v1h-5zM917 322h5v1h-5zM1236 322h3v1h-3zM822 323h6v1h-6zM922 323h4v1h-4zM1233 323h3v1h-3zM818 324h4v1h-4zM926 324h4v1h-4zM1231 324h2v1h-2zM813 325h5v1h-5zM930 325h8v1h-8zM969 325h19v1h-19zM1228 325h3v1h-3zM809 326h4v1h-4zM938 326h9v1h-9zM958 326h11v1h-11zM988 326h5v1h-5zM1226 326h2v1h-2zM805 327h4v1h-4zM947 327h11v1h-11zM993 327h5v1h-5zM1224 327h2v1h-2zM800 328h5v1h-5zM998 328h22v1h-22zM1222 328h2v1h-2zM796 329h4v1h-4zM1020 329h14v1h-14zM1220 329h2v1h-2zM791 330h5v1h-5zM1034 330h6v1h-6zM1218 330h2v1h-2zM784 331h7v1h-7zM1040 331h5v1h-5zM1216 331h2v1h-2zM777 332h7v1h-7zM1045 332h5v1h-5zM1214 332h2v1h-2zM772 333h5v1h-5zM1050 333h4v1h-4zM1088 333h17v1h-17zM1212 333h2v1h-2zM515 334h33v1h-33zM768 334h4v1h-4zM1054 334h5v1h-5zM1073 334h15v1h-15zM1105 334h7v1h-7zM1209 334h3v1h-3zM507 335h8v1h-8zM548 335h5v1h-5zM764 335h4v1h-4zM1059 335h14v1h-14zM1112 335h7v1h-7zM1207 335h2v1h-2zM504 336h3v1h-3zM553 336h4v1h-4zM759 336h5v1h-5zM1119 336h4v1h-4zM1205 336h2v1h-2zM501 337h3v1h-3zM557 337h4v1h-4zM756 337h3v1h-3zM1123 337h4v1h-4zM1203 337h2v1h-2zM498 338h3v1h-3zM561 338h4v1h-4zM752 338h4v1h-4zM1127 338h5v1h-5zM1200 338h3v1h-3zM495 339h3v1h-3zM565 339h4v1h-4zM748 339h4v1h-4zM1132 339h4v1h-4zM1196 339h4v1h-4zM492 340h3v1h-3zM569 340h4v1h-4zM744 340h4v1h-4zM1136 340h5v1h-5zM1192 340h4v1h-4zM489 341h3v1h-3zM573 341h3v1h-3zM740 341h4v1h-4zM1141 341h4v1h-4zM1187 341h5v1h-5zM486 342h3v1h-3zM576 342h4v1h-4zM737 342h3v1h-3zM1145 342h4v1h-4zM1174 342h13v1h-13zM483 343h3v1h-3zM580 343h4v1h-4zM733 343h4v1h-4zM1149 343h25v1h-25zM480 344h3v1h-3zM584 344h3v1h-3zM730 344h3v1h-3zM478 345h2v1h-2zM587 345h4v1h-4zM727 345h3v1h-3zM475 346h3v1h-3zM591 346h4v1h-4zM723 346h4v1h-4zM472 347h3v1h-3zM595 347h4v1h-4zM720 347h3v1h-3zM470 348h2v1h-2zM599 348h5v1h-5zM715 348h5v1h-5zM468 349h2v1h-2zM604 349h5v1h-5zM710 349h5v1h-5zM466 350h2v1h-2zM609 350h19v1h-19zM705 350h5v1h-5zM463 351h3v1h-3zM628 351h4v1h-4zM700 351h5v1h-5zM461 352h2v1h-2zM632 352h4v1h-4zM696 352h4v1h-4zM459 353h2v1h-2zM636 353h4v1h-4zM692 353h4v1h-4zM456 354h3v1h-3zM640 354h4v1h-4zM688 354h4v1h-4zM454 355h2v1h-2zM644 355h3v1h-3zM684 355h4v1h-4zM452 356h2v1h-2zM647 356h3v1h-3zM680 356h4v1h-4zM450 357h2v1h-2zM650 357h3v1h-3zM676 357h4v1h-4zM447 358h3v1h-3zM653 358h7v1h-7zM669 358h7v1h-7zM445 359h2v1h-2zM660 359h9v1h-9zM443 360h2v1h-2zM441 361h2v1h-2zM438 362h3v1h-3zM436 363h2v1h-2zM433 364h3v1h-3zM430 365h3v1h-3zM428 366h2v1h-2zM424 367h4v1h-4zM421 368h3v1h-3zM418 369h3v1h-3zM413 370h5v1h-5zM405 371h8v1h-8zM397 372h8v1h-8zM390 373h7v1h-7zM383 374h7v1h-7zM375 375h8v1h-8zM370 376h5v1h-5zM364 377h6v1h-6zM359 378h5v1h-5zM353 379h6v1h-6zM348 380h5v1h-5zM345 381h3v1h-3zM341 382h4v1h-4zM337 383h4v1h-4zM334 384h3v1h-3zM332 385h2v1h-2zM330 386h2v1h-2zM329 387h1v1h-1zM327 388h2v1h-2zM325 389h2v1h-2zM323 390h2v1h-2zM322 391h1v1h-1zM320 392h2v1h-2zM318 393h2v1h-2zM317 394h1v1h-1zM315 395h2v1h-2zM314 396h1v1h-1zM313 397h1v1h-1zM311 398h2v1h-2zM310 399h1v1h-1zM309 400h1v1h-1zM307 401h2v1h-2zM306 402h1v1h-1zM305 403h1v1h-1zM303 404h2v1h-2zM302 405h1v1h-1zM301 406h1v1h-1zM299 407h2v1h-2zM298 408h1v1h-1zM296 409h2v1h-2zM295 410h1v1h-1zM293 411h2v1h-2zM292 412h1v1h-1zM290 413h2v1h-2zM289 414h1v1h-1zM287 415h2v1h-2zM286 416h1v1h-1zM284 417h2v1h-2zM283 418h1v1h-1zM281 419h2v1h-2zM280 420h1v1h-1zM279 421h1v1h-1zM277 422h2v1h-2zM276 423h1v1h-1zM275 424h1v1h-1zM274 425h1v1h-1zM272 426h2v1h-2zM271 427h1v1h-1zM270 428h1v1h-1zM269 429h1v1h-1zM267 430h2v1h-2zM266 431h1v1h-1zM265 432h1v1h-1zM264 433h1v1h-1zM263 434h1v1h-1zM262 435h1v1h-1zM260 436h2v1h-2zM259 437h1v1h-1zM258 438h1v1h-1zM257 439h1v1h-1zM256 440h1v1h-1zM255 441h1v1h-1zM254 442h1v1h-1zM253 443h1v1h-1zM251 444h2v1h-2zM250 445h1v1h-1zM249 446h1v1h-1zM248 447h1v1h-1zM247 448h1v1h-1zM246 449h1v1h-1zM245 450h1v1h-1zM243 451h2v1h-2zM242 452h1v1h-1zM241 453h1v1h-1zM240 454h1v1h-1zM238 455h2v1h-2zM237 456h1v1h-1zM236 457h1v1h-1zM235 458h1v1h-1zM233 459h2v1h-2zM232 460h1v1h-1zM231 461h1v1h-1zM230 462h1v1h-1zM228 463h2v1h-2zM227 464h1v1h-1zM226 465h1v1h-1zM225 466h1v1h-1zM223 467h2v1h-2zM222 468h1v1h-1zM221 469h1v1h-1zM220 470h1v1h-1zM219 471h1v1h-1zM218 472h1v1h-1zM217 473h1v1h-1zM216 474h1v1h-1zM215 475h1v1h-1zM214 476h1v1h-1zM213 477h1v1h-1zM212 478h1v1h-1zM211 479h1v1h-1zM210 480h1v1h-1zM209 481h1v1h-1zM208 482h1v1h-1zM207 483h1v1h-1zM206 484h1v1h-1zM205 485h1v1h-1zM204 486h1v1h-1zM203 487h1v1h-1zM202 488h1v2h-1zM201 490h1v1h-1zM200 491h1v1h-1zM199 492h1v1h-1zM198 493h1v1h-1zM197 494h1v1h-1zM196 495h1v2h-1zM195 497h1v1h-1zM194 498h1v1h-1zM193 499h1v1h-1zM192 500h1v1h-1zM191 501h1v1h-1zM190 502h1v2h-1zM189 504h1v1h-1zM187 505h2v1h-2zM186 506h1v1h-1zM185 507h1v1h-1zM183 508h2v1h-2zM182 509h1v1h-1zM181 510h1v1h-1zM180 511h1v1h-1zM178 512h2v1h-2zM177 513h1v1h-1zM175 514h2v1h-2zM174 515h1v1h-1zM173 516h1v1h-1zM171 517h2v1h-2zM170 518h1v1h-1zM169 519h1v1h-1zM167 520h2v1h-2zM166 521h1v1h-1zM164 522h2v1h-2zM163 523h1v1h-1zM162 524h1v1h-1zM160 525h2v1h-2zM158 526h2v1h-2zM156 527h2v1h-2zM154 528h2v1h-2zM152 529h2v1h-2zM150 530h2v1h-2zM148 531h2v1h-2zM146 532h2v1h-2zM144 533h2v1h-2zM141 534h3v1h-3zM138 535h3v1h-3zM136 536h2v1h-2zM133 537h3v1h-3zM130 538h3v1h-3zM127 539h3v1h-3zM118 540h9v1h-9zM114 541h4v1h-4z" fill="#FF00FF"/>
<path d="M1333 161h1v1h-1zM1332 162h1v1h-1zM1331 163h1v1h-1zM1330 164h1v1h-1zM1329 165h1v1h-1zM1328 166h1v1h-1zM1327 167h1v1h-1zM1326 168h1v1h-1zM1325 169h1v1h-1zM1324 170h1v1h-1zM1323 171h1v1h-1zM1322 172h1v1h-1zM1321 173h1v2h-1zM1320 174h1v1h-1zM1318 175h2v1h-2zM1317 176h1v1h-1zM1315 177h2v1h-2zM1314 178h1v1h-1zM1312 179h2v1h-2zM1311 180h1v1h-1zM1310 181h1v1h-1zM1309 182h1v2h-1zM1308 184h1v1h-1zM1307 185h1v1h-1zM1306 186h1v1h-1zM1305 187h1v2h-1zM1304 189h1v1h-1zM1303 190h1v1h-1zM1302 191h1v1h-1zM1301 192h1v1h-1zM1300 193h1v1h-1zM1299 194h1v1h-1zM1298 195h1v1h-1zM1297 196h1v1h-1zM1296 197h1v1h-1zM1295 198h1v1h-1zM1294 199h1v1h-1zM1293 200h1v1h-1zM1292 201h1v1h-1zM1291 202h1v1h-1zM1290 203h1v1h-1zM1289 204h1v1h-1zM1288 205h1v1h-1zM1287 206h1v1h-1zM1286 207h1v1h-1zM1285 208h1v1h-1zM1283 209h2v1h-2zM1282 210h1v1h-1zM1281 211h1v1h-1zM1279 212h2v1h-2zM1278 213h1v1h-1zM1277 214h1v1h-1zM1275 215h2v1h-2zM1274 216h1v1h-1zM1273 217h1v1h-1zM1271 218h2v1h-2zM1270 219h1v1h-1zM1269 220h1v1h-1zM1268 221h1v1h-1zM1267 222h1v1h-1zM1266 223h1v1h-1zM1264 224h2v1h-2zM1263 225h1v1h-1zM1262 226h1v1h-1zM1260 227h2v1h-2zM1259 228h1v1h-1zM1257 229h2v1h-2zM1256 230h1v1h-1zM1254 231h2v1h-2zM1253 232h1v1h-1zM1252 233h1v1h-1zM1250 234h2v1h-2zM1249 235h1v1h-1zM1248 236h1v1h-1zM1247 237h1v1h-1zM1245 238h2v1h-2zM1244 239h1v1h-1zM1243 240h1v1h-1zM1242 241h1v2h-1zM1241 243h1v1h-1zM1240 244h1v1h-1zM1239 245h1v1h-1zM1238 246h1v1h-1zM1237 247h1v1h-1zM1236 248h1v2h-1zM1235 250h1v1h-1zM1234 251h1v1h-1zM1233 252h1v1h-1zM1232 253h1v1h-1zM1231 254h1v2h-1zM1230 256h1v1h-1zM1229 257h1v1h-1zM1228 258h1v2h-1zM1227 260h1v1h-1zM1226 261h1v1h-1zM1225 262h1v2h-1zM1224 264h1v1h-1zM1223 265h1v1h-1zM1222 266h1v2h-1zM1221 268h1v1h-1zM1220 269h1v1h-1zM1219 270h1v2h-1zM1218 272h1v1h-1zM1217 273h1v2h-1zM763 275h7v1h-7zM821 275h11v1h-11zM1216 275h1v1h-1zM760 276h3v1h-3zM770 276h3v1h-3zM813 276h8v1h-8zM832 276h3v1h-3zM1215 276h1v2h-1zM758 277h2v1h-2zM773 277h4v1h-4zM808 277h5v1h-5zM835 277h3v1h-3zM757 278h1v1h-1zM777 278h10v1h-10zM803 278h5v1h-5zM838 278h2v1h-2zM1214 278h1v1h-1zM756 279h1v1h-1zM787 279h10v1h-10zM798 279h5v1h-5zM840 279h3v1h-3zM1213 279h1v2h-1zM755 280h1v1h-1zM797 280h1v1h-1zM843 280h2v1h-2zM753 281h2v1h-2zM845 281h3v1h-3zM1212 281h1v1h-1zM752 282h1v1h-1zM848 282h2v1h-2zM1211 282h1v2h-1zM751 283h1v1h-1zM850 283h2v1h-2zM750 284h1v1h-1zM852 284h2v1h-2zM1210 284h1v1h-1zM265 285h13v1h-13zM748 285h2v1h-2zM854 285h2v1h-2zM1209 285h1v2h-1zM263 286h2v1h-2zM278 286h3v1h-3zM747 286h1v1h-1zM856 286h2v1h-2zM261 287h2v1h-2zM281 287h2v1h-2zM746 287h1v1h-1zM858 287h2v1h-2zM1208 287h1v1h-1zM259 288h2v1h-2zM283 288h2v1h-2zM745 288h1v1h-1zM860 288h2v1h-2zM1207 288h1v2h-1zM257 289h2v1h-2zM285 289h2v1h-2zM744 289h1v1h-1zM862 289h2v1h-2zM255 290h2v1h-2zM287 290h3v1h-3zM743 290h1v1h-1zM864 290h2v1h-2zM1206 290h1v1h-1zM253 291h2v1h-2zM290 291h2v1h-2zM742 291h1v1h-1zM866 291h2v1h-2zM1205 291h1v2h-1zM251 292h2v1h-2zM292 292h2v1h-2zM741 292h1v1h-1zM868 292h2v1h-2zM249 293h2v1h-2zM294 293h5v1h-5zM740 293h1v2h-1zM870 293h1v1h-1zM1204 293h1v1h-1zM247 294h2v1h-2zM299 294h4v1h-4zM871 294h2v1h-2zM1203 294h1v2h-1zM245 295h2v1h-2zM303 295h2v1h-2zM739 295h1v1h-1zM873 295h2v1h-2zM244 296h1v1h-1zM305 296h2v1h-2zM738 296h1v1h-1zM875 296h1v1h-1zM1202 296h1v2h-1zM242 297h2v1h-2zM307 297h2v1h-2zM737 297h1v1h-1zM876 297h2v1h-2zM240 298h2v1h-2zM309 298h2v1h-2zM736 298h1v1h-1zM878 298h2v1h-2zM1201 298h1v1h-1zM239 299h1v1h-1zM311 299h1v1h-1zM735 299h1v1h-1zM880 299h1v1h-1zM1200 299h1v2h-1zM237 300h2v1h-2zM312 300h2v1h-2zM734 300h1v1h-1zM881 300h2v1h-2zM235 301h2v1h-2zM314 301h2v1h-2zM733 301h1v1h-1zM883 301h2v1h-2zM1199 301h1v1h-1zM233 302h2v1h-2zM316 302h1v1h-1zM732 302h1v1h-1zM885 302h1v1h-1zM1198 302h1v2h-1zM232 303h1v1h-1zM317 303h1v1h-1zM731 303h1v1h-1zM886 303h2v1h-2zM230 304h2v1h-2zM318 304h2v1h-2zM730 304h1v1h-1zM888 304h1v1h-1zM1197 304h1v1h-1zM228 305h2v1h-2zM320 305h1v1h-1zM729 305h1v1h-1zM889 305h2v1h-2zM1196 305h1v2h-1zM226 306h2v1h-2zM321 306h2v1h-2zM728 306h1v1h-1zM891 306h1v1h-1zM224 307h2v1h-2zM323 307h1v1h-1zM727 307h1v1h-1zM892 307h1v1h-1zM1195 307h1v1h-1zM223 308h1v1h-1zM324 308h1v1h-1zM726 308h1v1h-1zM893 308h2v1h-2zM1194 308h1v1h-1zM222 309h1v1h-1zM325 309h2v1h-2zM725 309h1v1h-1zM895 309h1v1h-1zM1193 309h1v2h-1zM221 310h1v1h-1zM327 310h1v1h-1zM724 310h1v1h-1zM896 310h2v1h-2zM220 311h1v1h-1zM328 311h1v1h-1zM723 311h1v1h-1zM898 311h1v1h-1zM1192 311h1v1h-1zM219 312h1v1h-1zM329 312h2v1h-2zM722 312h1v1h-1zM899 312h1v1h-1zM1191 312h1v1h-1zM218 313h1v1h-1zM331 313h1v1h-1zM721 313h1v1h-1zM900 313h2v1h-2zM1190 313h1v2h-1zM217 314h1v1h-1zM332 314h1v1h-1zM720 314h1v1h-1zM902 314h1v1h-1zM216 315h1v1h-1zM333 315h1v1h-1zM719 315h1v1h-1zM903 315h1v1h-1zM1189 315h1v1h-1zM215 316h1v1h-1zM334 316h2v1h-2zM718 316h1v1h-1zM904 316h1v1h-1zM1188 316h1v2h-1zM214 317h1v1h-1zM336 317h1v1h-1zM717 317h1v1h-1zM905 317h2v1h-2zM213 318h1v1h-1zM337 318h1v1h-1zM716 318h1v1h-1zM907 318h1v1h-1zM1187 318h1v1h-1zM212 319h1v2h-1zM338 319h1v1h-1zM715 319h1v1h-1zM908 319h1v1h-1zM1186 319h1v2h-1zM339 320h2v1h-2zM714 320h1v1h-1zM909 320h1v1h-1zM211 321h1v1h-1zM341 321h1v1h-1zM713 321h1v1h-1zM910 321h1v1h-1zM1185 321h1v1h-1zM210 322h1v1h-1zM342 322h1v1h-1zM712 322h1v1h-1zM911 322h1v1h-1zM1184 322h1v2h-1zM209 323h1v2h-1zM343 323h2v1h-2zM711 323h1v1h-1zM912 323h1v2h-1zM345 324h1v1h-1zM710 324h1v2h-1zM1183 324h1v2h-1zM208 325h1v1h-1zM346 325h1v1h-1zM913 325h1v1h-1zM207 326h1v2h-1zM347 326h1v1h-1zM709 326h1v1h-1zM914 326h1v2h-1zM1182 326h1v1h-1zM348 327h2v1h-2zM708 327h1v1h-1zM1181 327h1v2h-1zM206 328h1v1h-1zM350 328h1v1h-1zM707 328h1v1h-1zM915 328h1v1h-1zM205 329h1v1h-1zM351 329h1v1h-1zM706 329h1v1h-1zM916 329h1v2h-1zM1180 329h1v1h-1zM204 330h1v2h-1zM352 330h1v1h-1zM705 330h1v1h-1zM1179 330h1v2h-1zM353 331h2v1h-2zM704 331h1v1h-1zM917 331h1v1h-1zM203 332h1v1h-1zM355 332h1v1h-1zM703 332h1v1h-1zM918 332h1v2h-1zM1178 332h1v2h-1zM202 333h1v2h-1zM356 333h1v1h-1zM702 333h1v1h-1zM357 334h1v1h-1zM701 334h1v1h-1zM919 334h1v1h-1zM1177 334h1v1h-1zM201 335h1v1h-1zM358 335h1v1h-1zM700 335h1v1h-1zM920 335h2v1h-2zM1176 335h1v2h-1zM200 336h1v2h-1zM359 336h1v1h-1zM699 336h1v1h-1zM922 336h1v1h-1zM360 337h1v1h-1zM698 337h1v1h-1zM923 337h1v1h-1zM1175 337h1v1h-1zM199 338h1v1h-1zM361 338h1v2h-1zM697 338h1v1h-1zM924 338h1v1h-1zM1174 338h1v2h-1zM198 339h1v2h-1zM696 339h1v1h-1zM925 339h1v1h-1zM362 340h1v1h-1zM695 340h1v1h-1zM926 340h1v1h-1zM1173 340h1v2h-1zM197 341h1v1h-1zM363 341h1v2h-1zM694 341h1v1h-1zM927 341h2v1h-2zM196 342h1v2h-1zM693 342h1v1h-1zM929 342h3v1h-3zM1172 342h1v1h-1zM364 343h1v1h-1zM593 343h14v1h-14zM692 343h1v1h-1zM932 343h3v1h-3zM1171 343h1v2h-1zM195 344h1v1h-1zM365 344h1v2h-1zM579 344h14v1h-14zM607 344h4v1h-4zM691 344h1v1h-1zM935 344h3v1h-3zM194 345h1v2h-1zM575 345h4v1h-4zM611 345h4v1h-4zM690 345h1v1h-1zM938 345h4v1h-4zM1170 345h1v2h-1zM366 346h1v1h-1zM570 346h5v1h-5zM615 346h4v1h-4zM689 346h1v1h-1zM942 346h8v1h-8zM193 347h1v1h-1zM367 347h1v2h-1zM566 347h4v1h-4zM619 347h4v1h-4zM688 347h1v1h-1zM950 347h7v1h-7zM1169 347h1v1h-1zM192 348h1v2h-1zM562 348h4v1h-4zM623 348h4v1h-4zM687 348h1v1h-1zM957 348h5v1h-5zM1168 348h1v1h-1zM368 349h1v1h-1zM557 349h5v1h-5zM627 349h3v1h-3zM686 349h1v1h-1zM962 349h5v1h-5zM1167 349h1v1h-1zM191 350h1v1h-1zM369 350h1v2h-1zM555 350h2v1h-2zM630 350h3v1h-3zM685 350h1v1h-1zM967 350h5v1h-5zM1166 350h1v1h-1zM190 351h1v2h-1zM552 351h3v1h-3zM633 351h2v1h-2zM684 351h1v1h-1zM972 351h5v1h-5zM1165 351h1v2h-1zM370 352h2v1h-2zM549 352h3v1h-3zM635 352h3v1h-3zM683 352h1v1h-1zM977 352h4v1h-4zM189 353h1v1h-1zM372 353h1v1h-1zM547 353h2v1h-2zM638 353h2v1h-2zM682 353h1v1h-1zM981 353h2v1h-2zM1164 353h1v1h-1zM188 354h1v1h-1zM373 354h1v1h-1zM544 354h3v1h-3zM640 354h3v1h-3zM681 354h1v1h-1zM983 354h2v1h-2zM1163 354h1v1h-1zM187 355h1v1h-1zM374 355h1v1h-1zM542 355h2v1h-2zM643 355h3v1h-3zM680 355h1v1h-1zM985 355h2v1h-2zM1162 355h1v1h-1zM186 356h1v1h-1zM375 356h1v1h-1zM539 356h3v1h-3zM646 356h3v1h-3zM679 356h1v1h-1zM987 356h2v1h-2zM1161 356h1v1h-1zM185 357h1v2h-1zM376 357h2v1h-2zM536 357h3v1h-3zM649 357h2v1h-2zM677 357h2v1h-2zM989 357h2v1h-2zM1160 357h1v2h-1zM378 358h1v1h-1zM533 358h3v1h-3zM651 358h3v1h-3zM675 358h2v1h-2zM991 358h2v1h-2zM184 359h1v1h-1zM379 359h1v1h-1zM530 359h3v1h-3zM654 359h3v1h-3zM673 359h2v1h-2zM993 359h2v1h-2zM1159 359h1v1h-1zM183 360h1v1h-1zM380 360h1v1h-1zM526 360h4v1h-4zM657 360h4v1h-4zM671 360h2v1h-2zM995 360h3v1h-3zM1158 360h1v1h-1zM182 361h1v1h-1zM381 361h1v1h-1zM517 361h9v1h-9zM661 361h3v1h-3zM665 361h6v1h-6zM998 361h3v1h-3zM1157 361h1v1h-1zM181 362h1v1h-1zM382 362h2v1h-2zM509 362h8v1h-8zM664 362h1v1h-1zM1001 362h3v1h-3zM1156 362h1v1h-1zM180 363h1v1h-1zM384 363h1v1h-1zM507 363h2v1h-2zM1004 363h2v1h-2zM1155 363h1v2h-1zM179 364h1v2h-1zM385 364h1v1h-1zM505 364h2v1h-2zM1006 364h2v1h-2zM386 365h1v1h-1zM502 365h3v1h-3zM1008 365h2v1h-2zM1154 365h1v1h-1zM178 366h1v1h-1zM387 366h1v1h-1zM500 366h2v1h-2zM1010 366h2v1h-2zM1153 366h1v1h-1zM177 367h1v1h-1zM388 367h2v1h-2zM498 367h2v1h-2zM1012 367h2v1h-2zM1152 367h1v1h-1zM176 368h1v2h-1zM390 368h1v1h-1zM496 368h2v1h-2zM1014 368h1v1h-1zM1151 368h1v1h-1zM391 369h1v1h-1zM493 369h3v1h-3zM1015 369h2v1h-2zM1149 369h2v1h-2zM175 370h1v1h-1zM392 370h1v1h-1zM491 370h2v1h-2zM1017 370h2v1h-2zM1148 370h1v1h-1zM174 371h1v2h-1zM393 371h2v1h-2zM489 371h2v1h-2zM1019 371h2v1h-2zM1146 371h2v1h-2zM395 372h1v1h-1zM487 372h2v1h-2zM1021 372h1v1h-1zM1144 372h2v1h-2zM173 373h1v1h-1zM396 373h1v1h-1zM485 373h2v1h-2zM1022 373h2v1h-2zM1143 373h1v1h-1zM172 374h1v1h-1zM397 374h2v1h-2zM483 374h2v1h-2zM1024 374h2v1h-2zM1138 374h5v1h-5zM171 375h1v2h-1zM399 375h1v1h-1zM480 375h3v1h-3zM1026 375h2v1h-2zM1134 375h4v1h-4zM400 376h2v1h-2zM478 376h2v1h-2zM1028 376h1v1h-1zM1129 376h5v1h-5zM170 377h1v1h-1zM402 377h1v1h-1zM472 377h6v1h-6zM1029 377h2v1h-2zM1125 377h4v1h-4zM169 378h1v2h-1zM403 378h1v1h-1zM466 378h6v1h-6zM1031 378h2v1h-2zM1121 378h4v1h-4zM404 379h2v1h-2zM461 379h5v1h-5zM1033 379h1v1h-1zM1116 379h5v1h-5zM168 380h1v1h-1zM406 380h1v1h-1zM459 380h2v1h-2zM1034 380h1v1h-1zM1111 380h5v1h-5zM167 381h1v2h-1zM407 381h3v1h-3zM457 381h2v1h-2zM1035 381h1v1h-1zM1106 381h5v1h-5zM410 382h2v1h-2zM455 382h2v1h-2zM1036 382h1v1h-1zM1101 382h5v1h-5zM166 383h1v1h-1zM412 383h3v1h-3zM453 383h2v1h-2zM1037 383h1v1h-1zM1097 383h4v1h-4zM165 384h1v1h-1zM415 384h2v1h-2zM451 384h2v1h-2zM1038 384h1v1h-1zM1094 384h3v1h-3zM164 385h1v1h-1zM417 385h4v1h-4zM449 385h2v1h-2zM1039 385h1v1h-1zM1091 385h3v1h-3zM163 386h1v1h-1zM421 386h3v1h-3zM446 386h3v1h-3zM1040 386h2v1h-2zM1088 386h3v1h-3zM162 387h1v1h-1zM424 387h3v1h-3zM443 387h3v1h-3zM1042 387h1v1h-1zM1085 387h3v1h-3zM161 388h1v1h-1zM427 388h7v1h-7zM440 388h3v1h-3zM1043 388h1v1h-1zM1082 388h3v1h-3zM160 389h1v1h-1zM434 389h6v1h-6zM1044 389h2v1h-2zM1080 389h2v1h-2zM159 390h1v2h-1zM1046 390h2v1h-2zM1078 390h2v1h-2zM1048 391h2v1h-2zM1076 391h2v1h-2zM158 392h1v1h-1zM1050 392h2v1h-2zM1073 392h3v1h-3zM157 393h1v1h-1zM1052 393h1v1h-1zM1071 393h2v1h-2zM156 394h1v1h-1zM1053 394h18v1h-18zM155 395h1v2h-1zM154 397h1v1h-1zM153 398h1v2h-1zM152 400h1v2h-1zM151 402h1v2h-1zM150 404h1v2h-1zM149 406h1v1h-1zM148 407h1v2h-1zM147 409h1v2h-1zM146 411h1v2h-1zM145 413h1v2h-1zM144 415h1v1h-1zM143 416h1v1h-1zM142 417h1v1h-1zM141 418h1v1h-1zM140 419h1v1h-1zM139 420h1v2h-1zM138 422h1v1h-1zM137 423h1v1h-1zM136 424h1v1h-1zM135 425h1v1h-1zM134 426h1v1h-1zM133 427h1v2h-1zM132 429h1v1h-1zM131 430h1v1h-1zM130 431h1v1h-1zM129 432h1v1h-1zM128 433h1v1h-1zM127 434h1v2h-1zM126 436h1v1h-1zM125 437h1v1h-1zM124 438h1v1h-1zM123 439h1v1h-1zM122 440h1v2h-1zM121 442h1v1h-1zM120 443h1v1h-1zM119 444h1v1h-1zM118 445h1v2h-1zM117 447h1v1h-1zM116 448h1v1h-1zM115 449h1v1h-1zM114 450h1v2h-1zM113 452h1v1h-1zM112 453h1v1h-1zM111 454h1v2h-1zM110 456h1v1h-1zM109 457h1v2h-1zM108 459h1v1h-1zM107 460h1v1h-1zM106 461h1v2h-1zM105 463h1v1h-1zM104 464h1v2h-1zM103 466h1v1h-1zM102 467h1v2h-1zM100 469h2v1h-2zM99 470h1v1h-1zM97 471h2v1h-2zM96 472h1v1h-1zM95 473h1v1h-1zM93 474h2v1h-2zM91 475h2v1h-2zM90 476h1v1h-1zM88 477h2v1h-2zM86 478h2v1h-2zM85 479h1v1h-1zM83 480h2v1h-2zM80 481h3v1h-3zM78 482h2v1h-2zM76 483h2v1h-2zM73 484h3v1h-3zM71 485h2v1h-2zM69 486h2v1h-2zM68 487h1v1h-1zM66 488h2v1h-2zM65 489h1v1h-1zM63 490h2v1h-2zM62 491h1v1h-1zM61 492h1v1h-1zM60 493h1v1h-1zM59 494h1v2h-1zM58 496h1v1h-1zM57 497h1v1h-1zM56 498h1v1h-1zM55 499h1v1h-1zM54 500h1v2h-1zM53 501h1v1h-1zM52 502h1v1h-1zM51 503h1v1h-1zM50 504h1v1h-1zM49 505h1v1h-1zM48 506h1v1h-1zM47 507h1v1h-1zM45 508h2v1h-2zM44 509h1v1h-1zM43 510h1v1h-1zM42 511h1v1h-1zM41 512h1v1h-1zM40 513h1v1h-1zM39 514h1v1h-1zM38 515h1v1h-1zM37 516h1v1h-1zM36 517h1v2h-1zM35 519h1v1h-1zM34 520h1v1h-1zM33 521h1v1h-1zM32 522h1v1h-1zM31 523h1v1h-1zM30 524h1v1h-1zM29 525h1v1h-1zM28 526h1v1h-1zM26 527h2v1h-2zM25 528h1v1h-1zM24 529h1v1h-1zM23 530h1v1h-1zM22 531h1v1h-1zM21 532h1v1h-1zM20 533h1v1h-1zM18 534h2v1h-2zM17 535h1v1h-1zM16 536h1v1h-1zM15 537h1v1h-1zM14 538h1v1h-1zM13 539h1v1h-1zM12 540h1v1h-1zM11 541h1v1h-1z" fill="#FFA500"/>
<rect x="6" y="321" width="1685" height="2" fill="#4169E1"/>
<rect x="6" y="221" width="1685" height="2" fill="#1E90FF"/>
<rect x="6" y="154" width="1685" height="2" fill="#00F977"/>
</g>
<g shape-rendering="crispEdges">
<rect x="5" y="152" width="6" height="6" fill="#00F977"/><rect x="7" y="154" width="2" height="2" fill="#fff"/>
<rect x="1685" y="152" width="6" height="6" fill="#00F977"/><rect x="1687" y="154" width="2" height="2" fill="#fff"/>
<rect x="5" y="219" width="6" height="6" fill="#1E90FF"/><rect x="7" y="221" width="2" height="2" fill="#fff"/>
<rect x="1685" y="219" width="6" height="6" fill="#1E90FF"/><rect x="1687" y="221" width="2" height="2" fill="#fff"/>
</g>
<path d="M1347.5 35 h10 l-5 5.5 z" fill="#778899"/>
<g shape-rendering="crispEdges">
<rect x="6" y="592" width="1" height="33" fill="#C0C0C0"/>
<rect x="14" y="591" width="1" height="34" fill="#C0C0C0"/>
<rect x="22" y="592" width="1" height="33" fill="#C0C0C0"/>
<rect x="30" y="595" width="1" height="30" fill="#C0C0C0"/>
<rect x="38" y="597" width="1" height="28" fill="#C0C0C0"/>
<rect x="46" y="597" width="1" height="28" fill="#C0C0C0"/>
<rect x="54" y="598" width="1" height="27" fill="#C0C0C0"/>
<rect x="62" y="593" width="1" height="32" fill="#C0C0C0"/>
<rect x="70" y="592" width="1" height="33" fill="#C0C0C0"/>
<rect x="78" y="591" width="1" height="34" fill="#C0C0C0"/>
<rect x="86" y="590" width="1" height="35" fill="#C0C0C0"/>
<rect x="94" y="588" width="1" height="37" fill="#C0C0C0"/>
<rect x="102" y="583" width="1" height="42" fill="#C0C0C0"/>
<rect x="110" y="572" width="1" height="53" fill="#C0C0C0"/>
<rect x="118" y="568" width="1" height="57" fill="#C0C0C0"/>
<rect x="126" y="562" width="1" height="63" fill="#C0C0C0"/>
<rect x="134" y="558" width="1" height="67" fill="#C0C0C0"/>
<rect x="142" y="554" width="1" height="71" fill="#C0C0C0"/>
<rect x="150" y="552" width="1" height="73" fill="#C0C0C0"/>
<rect x="158" y="553" width="1" height="72" fill="#C0C0C0"/>
<rect x="166" y="553" width="1" height="72" fill="#C0C0C0"/>
<rect x="174" y="554" width="1" height="71" fill="#C0C0C0"/>
<rect x="182" y="558" width="1" height="67" fill="#C0C0C0"/>
<rect x="190" y="560" width="1" height="65" fill="#C0C0C0"/>
<rect x="198" y="560" width="1" height="65" fill="#C0C0C0"/>
<rect x="206" y="562" width="1" height="63" fill="#C0C0C0"/>
<rect x="214" y="564" width="1" height="61" fill="#C0C0C0"/>
<rect x="222" y="571" width="1" height="54" fill="#C0C0C0"/>
<rect x="230" y="581" width="1" height="44" fill="#C0C0C0"/>
<rect x="238" y="586" width="1" height="39" fill="#C0C0C0"/>
<rect x="246" y="592" width="1" height="33" fill="#C0C0C0"/>
<rect x="254" y="597" width="1" height="28" fill="#C0C0C0"/>
<rect x="262" y="599" width="1" height="26" fill="#C0C0C0"/>
<rect x="270" y="601" width="1" height="24" fill="#C0C0C0"/>
<rect x="278" y="602" width="1" height="23" fill="#C0C0C0"/>
<rect x="286" y="610" width="1" height="15" fill="#C0C0C0"/>
<rect x="294" y="613" width="1" height="12" fill="#C0C0C0"/>
<rect x="302" y="612" width="1" height="13" fill="#C0C0C0"/>
<rect x="310" y="615" width="1" height="10" fill="#C0C0C0"/>
<rect x="318" y="620" width="1" height="5" fill="#C0C0C0"/>
<rect x="326" y="624" width="1" height="1" fill="#C0C0C0"/>
<rect x="334" y="624" width="1" height="5" fill="#C0C0C0"/>
<rect x="342" y="624" width="1" height="10" fill="#C0C0C0"/>
<rect x="350" y="624" width="1" height="13" fill="#C0C0C0"/>
<rect x="358" y="624" width="1" height="15" fill="#C0C0C0"/>
<rect x="366" y="624" width="1" height="18" fill="#C0C0C0"/>
<rect x="374" y="624" width="1" height="25" fill="#C0C0C0"/>
<rect x="382" y="624" width="1" height="24" fill="#C0C0C0"/>
<rect x="390" y="624" width="1" height="26" fill="#C0C0C0"/>
<rect x="398" y="624" width="1" height="27" fill="#C0C0C0"/>
<rect x="406" y="624" width="1" height="27" fill="#C0C0C0"/>
<rect x="414" y="624" width="1" height="25" fill="#C0C0C0"/>
<rect x="422" y="624" width="1" height="22" fill="#C0C0C0"/>
<rect x="430" y="624" width="1" height="16" fill="#C0C0C0"/>
<rect x="438" y="624" width="1" height="8" fill="#C0C0C0"/>
<rect x="446" y="621" width="1" height="4" fill="#C0C0C0"/>
<rect x="454" y="614" width="1" height="11" fill="#C0C0C0"/>
<rect x="462" y="609" width="1" height="16" fill="#C0C0C0"/>
<rect x="470" y="606" width="1" height="19" fill="#C0C0C0"/>
<rect x="478" y="605" width="1" height="20" fill="#C0C0C0"/>
<rect x="486" y="605" width="1" height="20" fill="#C0C0C0"/>
<rect x="494" y="604" width="1" height="21" fill="#C0C0C0"/>
<rect x="502" y="604" width="1" height="21" fill="#C0C0C0"/>
<rect x="510" y="609" width="1" height="16" fill="#C0C0C0"/>
<rect x="518" y="615" width="1" height="10" fill="#C0C0C0"/>
<rect x="526" y="619" width="1" height="6" fill="#C0C0C0"/>
<rect x="534" y="623" width="1" height="2" fill="#C0C0C0"/>
<rect x="542" y="624" width="1" height="1" fill="#C0C0C0"/>
<rect x="550" y="625" width="1" height="0" fill="#C0C0C0"/>
<rect x="558" y="624" width="1" height="4" fill="#C0C0C0"/>
<rect x="566" y="624" width="1" height="6" fill="#C0C0C0"/>
<rect x="574" y="624" width="1" height="8" fill="#C0C0C0"/>
<rect x="582" y="624" width="1" height="8" fill="#C0C0C0"/>
<rect x="590" y="624" width="1" height="9" fill="#C0C0C0"/>
<rect x="598" y="624" width="1" height="5" fill="#C0C0C0"/>
<rect x="606" y="625" width="1" height="0" fill="#C0C0C0"/>
<rect x="614" y="621" width="1" height="4" fill="#C0C0C0"/>
<rect x="622" y="618" width="1" height="7" fill="#C0C0C0"/>
<rect x="630" y="618" width="1" height="7" fill="#C0C0C0"/>
<rect x="638" y="620" width="1" height="5" fill="#C0C0C0"/>
<rect x="646" y="622" width="1" height="3" fill="#C0C0C0"/>
<rect x="654" y="623" width="1" height="2" fill="#C0C0C0"/>
<rect x="662" y="624" width="1" height="1" fill="#C0C0C0"/>
<rect x="670" y="619" width="1" height="6" fill="#C0C0C0"/>
<rect x="678" y="612" width="1" height="13" fill="#C0C0C0"/>
<rect x="686" y="605" width="1" height="20" fill="#C0C0C0"/>
<rect x="694" y="600" width="1" height="25" fill="#C0C0C0"/>
<rect x="702" y="592" width="1" height="33" fill="#C0C0C0"/>
<rect x="710" y="588" width="1" height="37" fill="#C0C0C0"/>
<rect x="718" y="585" width="1" height="40" fill="#C0C0C0"/>
<rect x="726" y="585" width="1" height="40" fill="#C0C0C0"/>
<rect x="734" y="587" width="1" height="38" fill="#C0C0C0"/>
<rect x="742" y="586" width="1" height="39" fill="#C0C0C0"/>
<rect x="750" y="584" width="1" height="41" fill="#C0C0C0"/>
<rect x="758" y="589" width="1" height="36" fill="#C0C0C0"/>
<rect x="766" y="595" width="1" height="30" fill="#C0C0C0"/>
<rect x="774" y="604" width="1" height="21" fill="#C0C0C0"/>
<rect x="782" y="613" width="1" height="12" fill="#C0C0C0"/>
<rect x="790" y="619" width="1" height="6" fill="#C0C0C0"/>
<rect x="798" y="624" width="1" height="1" fill="#C0C0C0"/>
<rect x="806" y="624" width="1" height="1" fill="#C0C0C0"/>
<rect x="814" y="624" width="1" height="6" fill="#C0C0C0"/>
<rect x="822" y="624" width="1" height="8" fill="#C0C0C0"/>
<rect x="830" y="624" width="1" height="10" fill="#C0C0C0"/>
<rect x="838" y="624" width="1" height="13" fill="#C0C0C0"/>
<rect x="846" y="624" width="1" height="11" fill="#C0C0C0"/>
<rect x="854" y="624" width="1" height="11" fill="#C0C0C0"/>
<rect x="862" y="624" width="1" height="6" fill="#C0C0C0"/>
<rect x="870" y="624" width="1" height="2" fill="#C0C0C0"/>
<rect x="878" y="625" width="1" height="0" fill="#C0C0C0"/>
<rect x="886" y="624" width="1" height="3" fill="#C0C0C0"/>
<rect x="894" y="624" width="1" height="6" fill="#C0C0C0"/>
<rect x="902" y="624" width="1" height="6" fill="#C0C0C0"/>
<rect x="910" y="624" width="1" height="14" fill="#C0C0C0"/>
<rect x="918" y="624" width="1" height="20" fill="#C0C0C0"/>
<rect x="926" y="624" width="1" height="22" fill="#C0C0C0"/>
<rect x="934" y="624" width="1" height="22" fill="#C0C0C0"/>
<rect x="942" y="624" width="1" height="22" fill="#C0C0C0"/>
<rect x="950" y="624" width="1" height="21" fill="#C0C0C0"/>
<rect x="958" y="624" width="1" height="19" fill="#C0C0C0"/>
<rect x="966" y="624" width="1" height="17" fill="#C0C0C0"/>
<rect x="974" y="624" width="1" height="16" fill="#C0C0C0"/>
<rect x="982" y="624" width="1" height="16" fill="#C0C0C0"/>
<rect x="990" y="624" width="1" height="20" fill="#C0C0C0"/>
<rect x="998" y="624" width="1" height="25" fill="#C0C0C0"/>
<rect x="1006" y="624" width="1" height="25" fill="#C0C0C0"/>
<rect x="1014" y="624" width="1" height="26" fill="#C0C0C0"/>
<rect x="1022" y="624" width="1" height="26" fill="#C0C0C0"/>
<rect x="1030" y="624" width="1" height="24" fill="#C0C0C0"/>
<rect x="1038" y="624" width="1" height="24" fill="#C0C0C0"/>
<rect x="1046" y="624" width="1" height="22" fill="#C0C0C0"/>
<rect x="1054" y="624" width="1" height="18" fill="#C0C0C0"/>
<rect x="1062" y="624" width="1" height="15" fill="#C0C0C0"/>
<rect x="1070" y="624" width="1" height="10" fill="#C0C0C0"/>
<rect x="1078" y="624" width="1" height="4" fill="#C0C0C0"/>
<rect x="1086" y="625" width="1" height="0" fill="#C0C0C0"/>
<rect x="1094" y="623" width="1" height="2" fill="#C0C0C0"/>
<rect x="1102" y="621" width="1" height="4" fill="#C0C0C0"/>
<rect x="1110" y="619" width="1" height="6" fill="#C0C0C0"/>
<rect x="1118" y="617" width="1" height="8" fill="#C0C0C0"/>
<rect x="1126" y="616" width="1" height="9" fill="#C0C0C0"/>
<rect x="1134" y="615" width="1" height="10" fill="#C0C0C0"/>
<rect x="1142" y="615" width="1" height="10" fill="#C0C0C0"/>
<rect x="1150" y="609" width="1" height="16" fill="#C0C0C0"/>
<rect x="1158" y="602" width="1" height="23" fill="#C0C0C0"/>
<rect x="1166" y="597" width="1" height="28" fill="#C0C0C0"/>
<rect x="1174" y="592" width="1" height="33" fill="#C0C0C0"/>
<rect x="1182" y="582" width="1" height="43" fill="#C0C0C0"/>
<rect x="1190" y="575" width="1" height="50" fill="#C0C0C0"/>
<rect x="1198" y="569" width="1" height="56" fill="#C0C0C0"/>
<rect x="1206" y="566" width="1" height="59" fill="#C0C0C0"/>
<rect x="1214" y="565" width="1" height="60" fill="#C0C0C0"/>
<rect x="1222" y="564" width="1" height="61" fill="#C0C0C0"/>
<rect x="1230" y="563" width="1" height="62" fill="#C0C0C0"/>
<rect x="1238" y="565" width="1" height="60" fill="#C0C0C0"/>
<rect x="1246" y="568" width="1" height="57" fill="#C0C0C0"/>
<rect x="1254" y="576" width="1" height="49" fill="#C0C0C0"/>
<rect x="1262" y="582" width="1" height="43" fill="#C0C0C0"/>
<rect x="1270" y="586" width="1" height="39" fill="#C0C0C0"/>
<rect x="1278" y="589" width="1" height="36" fill="#C0C0C0"/>
<rect x="1286" y="592" width="1" height="33" fill="#C0C0C0"/>
<rect x="1294" y="593" width="1" height="32" fill="#C0C0C0"/>
<rect x="1302" y="593" width="1" height="32" fill="#C0C0C0"/>
<rect x="1310" y="588" width="1" height="37" fill="#C0C0C0"/>
<rect x="1318" y="590" width="1" height="35" fill="#C0C0C0"/>
<rect x="1326" y="585" width="1" height="40" fill="#C0C0C0"/>
<rect x="1334" y="581" width="1" height="44" fill="#C0C0C0"/>
</g>
<clipPath id="c2"><rect x="6" y="545" width="1685" height="112"/></clipPath>
<g clip-path="url(#c2)">
<g shape-rendering="crispEdges">
<path d="M192 555h3v1h-3zM198 555h3v1h-3zM204 555h3v1h-3zM210 555h3v1h-3zM180 556h3v1h-3zM186 556h3v1h-3zM174 557h3v1h-3zM216 557h3v1h-3zM169 559h2v1h-2zM222 559h3v1h-3zM168 560h1v1h-1zM164 561h1v1h-1zM228 561h2v1h-2zM162 562h2v1h-2zM230 562h1v1h-1zM234 563h1v1h-1zM158 564h1v1h-1zM235 564h2v1h-2zM156 565h2v1h-2zM240 566h2v1h-2zM152 567h1v1h-1zM242 567h1v1h-1zM1244 567h1v1h-1zM1248 567h3v1h-3zM1254 567h3v1h-3zM1260 567h2v1h-2zM150 568h2v1h-2zM1242 568h2v1h-2zM1262 568h1v1h-1zM246 569h1v1h-1zM1266 569h3v1h-3zM247 570h2v1h-2zM1238 570h1v1h-1zM1272 570h2v1h-2zM145 571h2v1h-2zM1236 571h2v1h-2zM1274 571h1v1h-1zM144 572h1v1h-1zM252 572h1v1h-1zM1278 572h3v1h-3zM253 573h2v1h-2zM1232 573h1v1h-1zM139 574h2v1h-2zM1230 574h2v1h-2zM1284 574h2v1h-2zM138 575h1v1h-1zM1286 575h1v1h-1zM258 576h2v1h-2zM1226 576h1v1h-1zM1290 576h2v1h-2zM134 577h1v1h-1zM260 577h1v1h-1zM1224 577h2v1h-2zM1292 577h1v1h-1zM132 578h2v1h-2zM1296 578h2v1h-2zM264 579h2v1h-2zM1220 579h1v1h-1zM1298 579h1v1h-1zM128 580h1v1h-1zM266 580h1v1h-1zM1219 580h1v1h-1zM127 581h1v1h-1zM1218 581h1v1h-1zM1302 581h2v1h-2zM126 582h1v1h-1zM270 582h1v1h-1zM1304 582h1v1h-1zM271 583h1v1h-1zM1308 583h2v1h-2zM121 584h2v1h-2zM272 584h1v1h-1zM1213 584h2v1h-2zM1310 584h1v1h-1zM120 585h1v1h-1zM1212 585h1v1h-1zM1314 585h1v1h-1zM276 586h1v1h-1zM1315 586h2v1h-2zM1320 586h1v1h-1zM115 587h2v1h-2zM277 587h2v1h-2zM768 587h3v1h-3zM1321 587h2v1h-2zM1326 587h2v1h-2zM114 588h1v1h-1zM756 588h3v1h-3zM762 588h3v1h-3zM774 588h2v1h-2zM1207 588h2v1h-2zM1328 588h1v1h-1zM1332 588h3v1h-3zM109 589h2v1h-2zM752 589h1v1h-1zM776 589h1v1h-1zM1206 589h1v1h-1zM108 590h1v1h-1zM282 590h2v1h-2zM750 590h2v1h-2zM780 590h2v1h-2zM24 591h3v1h-3zM30 591h3v1h-3zM36 591h3v1h-3zM42 591h1v1h-1zM103 591h2v1h-2zM284 591h1v1h-1zM745 591h2v1h-2zM782 591h1v1h-1zM18 592h3v1h-3zM43 592h2v1h-2zM48 592h3v1h-3zM54 592h3v1h-3zM79 592h2v1h-2zM84 592h3v1h-3zM90 592h3v1h-3zM96 592h3v1h-3zM102 592h1v1h-1zM744 592h1v1h-1zM1201 592h2v1h-2zM12 593h3v1h-3zM60 593h3v1h-3zM66 593h3v1h-3zM72 593h3v1h-3zM78 593h1v1h-1zM288 593h1v1h-1zM740 593h1v1h-1zM786 593h2v1h-2zM1200 593h1v1h-1zM6 594h3v1h-3zM289 594h2v1h-2zM738 594h2v1h-2zM788 594h1v1h-1zM294 596h1v1h-1zM733 596h2v1h-2zM792 596h2v1h-2zM1195 596h2v1h-2zM295 597h2v1h-2zM732 597h1v1h-1zM794 597h1v1h-1zM1194 597h1v1h-1zM300 599h2v1h-2zM728 599h1v1h-1zM798 599h2v1h-2zM302 600h1v1h-1zM726 600h2v1h-2zM800 600h1v1h-1zM1189 600h2v1h-2zM1188 601h1v1h-1zM306 602h3v1h-3zM722 602h1v1h-1zM804 602h2v1h-2zM720 603h2v1h-2zM806 603h1v1h-1zM1183 603h2v1h-2zM312 604h1v1h-1zM1182 604h1v1h-1zM313 605h2v1h-2zM810 605h1v1h-1zM715 606h2v1h-2zM811 606h1v1h-1zM1177 606h2v1h-2zM318 607h3v1h-3zM516 607h3v1h-3zM522 607h3v1h-3zM528 607h1v1h-1zM714 607h1v1h-1zM812 607h1v1h-1zM1176 607h1v1h-1zM510 608h3v1h-3zM529 608h2v1h-2zM1172 608h1v1h-1zM324 609h2v1h-2zM504 609h3v1h-3zM534 609h3v1h-3zM708 609h3v1h-3zM816 609h1v1h-1zM1170 609h2v1h-2zM326 610h1v1h-1zM500 610h1v1h-1zM817 610h1v1h-1zM330 611h1v1h-1zM498 611h2v1h-2zM540 611h3v1h-3zM703 611h2v1h-2zM818 611h1v1h-1zM1164 611h3v1h-3zM331 612h2v1h-2zM546 612h1v1h-1zM702 612h1v1h-1zM336 613h1v1h-1zM494 613h1v1h-1zM547 613h2v1h-2zM697 613h2v1h-2zM822 613h1v1h-1zM1159 613h2v1h-2zM337 614h2v1h-2zM493 614h1v1h-1zM552 614h2v1h-2zM696 614h1v1h-1zM823 614h1v1h-1zM1158 614h1v1h-1zM492 615h1v1h-1zM554 615h1v1h-1zM690 615h3v1h-3zM824 615h1v1h-1zM1153 615h2v1h-2zM342 616h3v1h-3zM558 616h2v1h-2zM1152 616h1v1h-1zM488 617h1v1h-1zM560 617h1v1h-1zM684 617h3v1h-3zM828 617h1v1h-1zM1146 617h3v1h-3zM348 618h1v1h-1zM486 618h2v1h-2zM564 618h2v1h-2zM678 618h3v1h-3zM829 618h1v1h-1zM1142 618h1v1h-1zM349 619h2v1h-2zM566 619h1v1h-1zM672 619h3v1h-3zM830 619h1v1h-1zM1140 619h2v1h-2zM666 620h3v1h-3zM1136 620h1v1h-1zM354 621h1v1h-1zM482 621h1v1h-1zM570 621h2v1h-2zM660 621h3v1h-3zM834 621h1v1h-1zM1134 621h2v1h-2zM355 622h2v1h-2zM480 622h2v1h-2zM572 622h1v1h-1zM656 622h1v1h-1zM835 622h1v1h-1zM576 623h2v1h-2zM649 623h2v1h-2zM654 623h2v1h-2zM836 623h1v1h-1zM1128 623h3v1h-3zM360 624h2v1h-2zM578 624h1v1h-1zM642 624h3v1h-3zM648 624h1v1h-1zM362 625h1v1h-1zM476 625h1v1h-1zM582 625h3v1h-3zM632 625h1v1h-1zM636 625h3v1h-3zM840 625h3v1h-3zM1122 625h3v1h-3zM474 626h2v1h-2zM588 626h2v1h-2zM624 626h3v1h-3zM630 626h2v1h-2zM846 626h1v1h-1zM366 627h2v1h-2zM590 627h1v1h-1zM594 627h1v1h-1zM618 627h3v1h-3zM847 627h2v1h-2zM1116 627h3v1h-3zM368 628h1v1h-1zM595 628h2v1h-2zM612 628h3v1h-3zM852 628h1v1h-1zM470 629h1v1h-1zM600 629h3v1h-3zM606 629h3v1h-3zM853 629h2v1h-2zM1112 629h1v1h-1zM372 630h2v1h-2zM468 630h2v1h-2zM858 630h1v1h-1zM1110 630h2v1h-2zM374 631h1v1h-1zM859 631h2v1h-2zM864 631h3v1h-3zM876 631h3v1h-3zM882 631h3v1h-3zM888 631h3v1h-3zM894 631h3v1h-3zM900 631h3v1h-3zM906 631h3v1h-3zM912 631h3v1h-3zM870 632h3v1h-3zM918 632h3v1h-3zM924 632h1v1h-1zM1106 632h1v1h-1zM378 633h2v1h-2zM464 633h1v1h-1zM925 633h2v1h-2zM1104 633h2v1h-2zM380 634h1v1h-1zM462 634h2v1h-2zM930 634h3v1h-3zM936 635h3v1h-3zM1099 635h2v1h-2zM384 636h2v1h-2zM458 636h1v1h-1zM1098 636h1v1h-1zM386 637h1v1h-1zM457 637h1v1h-1zM942 637h3v1h-3zM1094 637h1v1h-1zM456 638h1v1h-1zM948 638h1v1h-1zM1092 638h2v1h-2zM390 639h3v1h-3zM949 639h2v1h-2zM451 640h2v1h-2zM954 640h3v1h-3zM1086 640h3v1h-3zM396 641h2v1h-2zM450 641h1v1h-1zM960 641h3v1h-3zM398 642h1v1h-1zM446 642h1v1h-1zM966 642h3v1h-3zM972 642h1v1h-1zM1080 642h3v1h-3zM402 643h2v1h-2zM444 643h2v1h-2zM973 643h2v1h-2zM978 643h3v1h-3zM984 643h1v1h-1zM404 644h1v1h-1zM985 644h2v1h-2zM990 644h3v1h-3zM996 644h3v1h-3zM1002 644h2v1h-2zM1074 644h3v1h-3zM408 645h3v1h-3zM438 645h3v1h-3zM1004 645h1v1h-1zM1008 645h3v1h-3zM1014 645h3v1h-3zM1069 645h2v1h-2zM414 646h3v1h-3zM420 646h3v1h-3zM434 646h1v1h-1zM1020 646h3v1h-3zM1026 646h3v1h-3zM1032 646h2v1h-2zM1068 646h1v1h-1zM426 647h3v1h-3zM432 647h2v1h-2zM1034 647h1v1h-1zM1038 647h3v1h-3zM1044 647h3v1h-3zM1050 647h3v1h-3zM1056 647h3v1h-3zM1062 647h3v1h-3z" fill="#FF0000"/>
</g>
</g>
<g shape-rendering="crispEdges">
<line x1="7" y1="693.5" x2="1691" y2="693.5" stroke="#C0C0C0" stroke-width="1" stroke-dasharray="3 3"/>
<line x1="7" y1="737.5" x2="1691" y2="737.5" stroke="#C0C0C0" stroke-width="1" stroke-dasharray="3 3"/>
</g>
<g shape-rendering="crispEdges">
<path d="M1193 682h7v1h-7zM1182 683h11v1h-11zM1200 683h1v1h-1zM1181 684h1v1h-1zM1201 684h1v1h-1zM1180 685h1v1h-1zM1202 685h1v1h-1zM1179 686h1v1h-1zM1203 686h1v1h-1zM1228 686h4v1h-4zM110 687h2v1h-2zM1178 687h1v1h-1zM1204 687h1v1h-1zM1223 687h5v1h-5zM1231 687h1v1h-1zM109 688h1v1h-1zM112 688h1v1h-1zM1176 688h2v1h-2zM1205 688h1v1h-1zM1217 688h6v1h-6zM1232 688h1v1h-1zM108 689h1v1h-1zM113 689h1v1h-1zM150 689h1v1h-1zM1175 689h1v1h-1zM1206 689h11v1h-11zM1233 689h1v1h-1zM107 690h1v1h-1zM114 690h1v1h-1zM145 690h5v1h-5zM151 690h2v1h-2zM1173 690h2v1h-2zM1234 690h1v1h-1zM106 691h1v1h-1zM115 691h1v1h-1zM132 691h13v1h-13zM153 691h1v1h-1zM702 691h2v1h-2zM1158 691h3v1h-3zM1171 691h2v1h-2zM1235 691h1v1h-1zM105 692h1v1h-1zM116 692h1v1h-1zM128 692h4v1h-4zM154 692h1v1h-1zM701 692h1v1h-1zM704 692h1v1h-1zM1156 692h2v1h-2zM1161 692h4v1h-4zM1168 692h3v1h-3zM1236 692h1v2h-1zM1310 692h1v1h-1zM104 693h1v1h-1zM117 693h1v1h-1zM124 693h4v1h-4zM155 693h1v1h-1zM699 693h2v1h-2zM705 693h2v1h-2zM1154 693h2v1h-2zM1165 693h3v1h-3zM1309 693h1v1h-1zM1311 693h1v2h-1zM102 694h2v1h-2zM118 694h1v1h-1zM121 694h3v1h-3zM156 694h2v1h-2zM164 694h6v1h-6zM698 694h1v1h-1zM707 694h1v1h-1zM1152 694h2v1h-2zM1237 694h1v1h-1zM1308 694h1v1h-1zM101 695h1v1h-1zM119 695h2v1h-2zM158 695h1v1h-1zM160 695h4v1h-4zM170 695h4v1h-4zM198 695h3v1h-3zM697 695h1v1h-1zM708 695h1v1h-1zM1151 695h1v1h-1zM1238 695h1v1h-1zM1307 695h1v1h-1zM1312 695h1v2h-1zM99 696h2v1h-2zM159 696h1v1h-1zM174 696h2v1h-2zM196 696h2v1h-2zM201 696h2v1h-2zM695 696h2v1h-2zM709 696h2v1h-2zM1150 696h1v1h-1zM1239 696h2v1h-2zM1306 696h1v2h-1zM97 697h2v1h-2zM176 697h1v1h-1zM193 697h3v1h-3zM203 697h3v1h-3zM685 697h10v1h-10zM711 697h9v1h-9zM1149 697h1v2h-1zM1241 697h2v1h-2zM1313 697h1v2h-1zM95 698h2v1h-2zM177 698h2v1h-2zM191 698h2v1h-2zM206 698h4v1h-4zM682 698h3v1h-3zM720 698h2v1h-2zM750 698h1v1h-1zM1243 698h1v1h-1zM1305 698h1v1h-1zM1326 698h9v1h-9zM93 699h2v1h-2zM179 699h1v1h-1zM189 699h2v1h-2zM210 699h5v1h-5zM446 699h3v1h-3zM679 699h3v1h-3zM722 699h2v1h-2zM747 699h3v1h-3zM751 699h1v1h-1zM1148 699h1v2h-1zM1244 699h2v1h-2zM1304 699h1v1h-1zM1314 699h1v2h-1zM1325 699h1v2h-1zM90 700h3v1h-3zM180 700h1v1h-1zM187 700h2v1h-2zM215 700h1v1h-1zM445 700h1v1h-1zM449 700h2v1h-2zM677 700h2v1h-2zM724 700h2v1h-2zM745 700h2v1h-2zM752 700h1v2h-1zM1246 700h1v1h-1zM1303 700h1v1h-1zM62 701h5v1h-5zM88 701h2v1h-2zM181 701h1v1h-1zM184 701h3v1h-3zM216 701h1v1h-1zM444 701h1v1h-1zM451 701h2v1h-2zM675 701h2v1h-2zM726 701h2v1h-2zM742 701h3v1h-3zM1147 701h1v2h-1zM1247 701h1v2h-1zM1301 701h2v1h-2zM1315 701h1v2h-1zM1324 701h1v1h-1zM61 702h1v1h-1zM67 702h3v1h-3zM73 702h15v1h-15zM182 702h2v1h-2zM217 702h1v1h-1zM443 702h1v1h-1zM453 702h2v1h-2zM673 702h2v1h-2zM728 702h2v1h-2zM740 702h2v1h-2zM753 702h1v1h-1zM1299 702h2v1h-2zM1323 702h1v1h-1zM60 703h1v1h-1zM70 703h3v1h-3zM218 703h1v1h-1zM442 703h1v1h-1zM455 703h4v1h-4zM671 703h2v1h-2zM730 703h3v1h-3zM737 703h3v1h-3zM754 703h1v1h-1zM1146 703h1v2h-1zM1248 703h1v1h-1zM1298 703h1v1h-1zM1316 703h1v2h-1zM1322 703h1v2h-1zM59 704h1v1h-1zM219 704h1v2h-1zM441 704h1v1h-1zM459 704h4v1h-4zM670 704h1v1h-1zM733 704h4v1h-4zM755 704h1v2h-1zM1078 704h3v1h-3zM1249 704h1v2h-1zM1296 704h2v1h-2zM58 705h1v1h-1zM440 705h1v1h-1zM463 705h10v1h-10zM669 705h1v2h-1zM1076 705h2v1h-2zM1081 705h2v1h-2zM1125 705h4v1h-4zM1145 705h1v2h-1zM1293 705h3v1h-3zM1317 705h1v2h-1zM1321 705h1v1h-1zM6 706h4v1h-4zM57 706h1v1h-1zM220 706h1v1h-1zM439 706h1v1h-1zM473 706h2v1h-2zM607 706h3v1h-3zM756 706h1v1h-1zM1074 706h2v1h-2zM1083 706h2v1h-2zM1120 706h5v1h-5zM1129 706h5v1h-5zM1250 706h1v2h-1zM1290 706h3v1h-3zM1320 706h1v1h-1zM10 707h5v1h-5zM56 707h1v1h-1zM221 707h1v1h-1zM437 707h2v1h-2zM475 707h2v1h-2zM605 707h2v1h-2zM610 707h12v1h-12zM668 707h1v2h-1zM757 707h1v2h-1zM870 707h2v1h-2zM1072 707h2v1h-2zM1085 707h2v1h-2zM1109 707h11v1h-11zM1134 707h2v1h-2zM1144 707h1v2h-1zM1287 707h3v1h-3zM1318 707h2v1h-2zM15 708h10v1h-10zM45 708h8v1h-8zM55 708h1v1h-1zM222 708h1v1h-1zM435 708h2v1h-2zM477 708h3v1h-3zM491 708h10v1h-10zM604 708h1v1h-1zM622 708h3v1h-3zM869 708h1v1h-1zM872 708h1v1h-1zM1071 708h1v1h-1zM1087 708h14v1h-14zM1105 708h4v1h-4zM1136 708h2v1h-2zM1251 708h1v2h-1zM1271 708h16v1h-16zM1319 708h1v1h-1zM25 709h2v1h-2zM42 709h3v1h-3zM53 709h2v1h-2zM223 709h1v1h-1zM433 709h2v1h-2zM480 709h6v1h-6zM487 709h4v1h-4zM501 709h3v1h-3zM602 709h2v1h-2zM625 709h3v1h-3zM667 709h1v2h-1zM758 709h1v1h-1zM867 709h2v1h-2zM873 709h1v1h-1zM1069 709h2v1h-2zM1101 709h4v1h-4zM1138 709h2v1h-2zM1143 709h1v2h-1zM1267 709h4v1h-4zM27 710h2v1h-2zM39 710h3v1h-3zM224 710h1v1h-1zM265 710h15v1h-15zM431 710h2v1h-2zM486 710h1v1h-1zM504 710h1v1h-1zM600 710h2v1h-2zM628 710h3v1h-3zM759 710h1v1h-1zM866 710h1v1h-1zM874 710h1v1h-1zM1066 710h3v1h-3zM1140 710h1v1h-1zM1252 710h1v1h-1zM1263 710h4v1h-4zM29 711h2v1h-2zM32 711h7v1h-7zM225 711h1v1h-1zM262 711h3v1h-3zM279 711h1v1h-1zM302 711h2v1h-2zM429 711h2v1h-2zM505 711h1v1h-1zM599 711h1v1h-1zM631 711h1v1h-1zM666 711h1v1h-1zM760 711h1v1h-1zM864 711h2v1h-2zM875 711h1v1h-1zM1064 711h2v1h-2zM1141 711h2v1h-2zM1253 711h1v2h-1zM1261 711h2v1h-2zM31 712h1v1h-1zM226 712h1v2h-1zM260 712h2v1h-2zM280 712h1v2h-1zM300 712h2v1h-2zM304 712h2v1h-2zM428 712h1v1h-1zM506 712h1v1h-1zM598 712h1v1h-1zM632 712h1v1h-1zM665 712h1v2h-1zM761 712h1v1h-1zM862 712h2v1h-2zM876 712h1v1h-1zM1062 712h2v1h-2zM1259 712h2v1h-2zM238 713h4v1h-4zM257 713h3v1h-3zM299 713h1v1h-1zM306 713h1v1h-1zM426 713h2v1h-2zM507 713h1v1h-1zM597 713h1v1h-1zM633 713h1v1h-1zM762 713h1v2h-1zM861 713h1v1h-1zM877 713h2v1h-2zM1061 713h1v1h-1zM1254 713h1v1h-1zM1256 713h3v1h-3zM227 714h1v1h-1zM236 714h2v1h-2zM242 714h4v1h-4zM255 714h2v1h-2zM281 714h1v1h-1zM298 714h1v1h-1zM307 714h1v1h-1zM424 714h2v1h-2zM508 714h1v1h-1zM596 714h1v1h-1zM634 714h2v1h-2zM664 714h1v2h-1zM860 714h1v1h-1zM879 714h1v1h-1zM1060 714h1v1h-1zM1255 714h1v1h-1zM228 715h1v1h-1zM235 715h1v1h-1zM246 715h9v1h-9zM282 715h1v2h-1zM296 715h2v1h-2zM308 715h2v1h-2zM423 715h1v1h-1zM509 715h1v1h-1zM595 715h1v1h-1zM636 715h1v1h-1zM763 715h1v1h-1zM858 715h2v1h-2zM880 715h2v1h-2zM1058 715h2v1h-2zM229 716h1v1h-1zM233 716h2v1h-2zM295 716h1v1h-1zM310 716h1v1h-1zM421 716h2v1h-2zM510 716h2v1h-2zM594 716h1v1h-1zM637 716h1v1h-1zM663 716h1v2h-1zM764 716h1v1h-1zM857 716h1v1h-1zM882 716h2v1h-2zM1057 716h1v1h-1zM230 717h3v1h-3zM283 717h1v2h-1zM294 717h1v1h-1zM311 717h3v1h-3zM420 717h1v1h-1zM512 717h1v1h-1zM593 717h1v1h-1zM638 717h3v1h-3zM651 717h11v1h-11zM765 717h1v1h-1zM846 717h8v1h-8zM855 717h2v1h-2zM884 717h1v1h-1zM1055 717h2v1h-2zM292 718h2v1h-2zM314 718h2v1h-2zM418 718h2v1h-2zM513 718h1v1h-1zM549 718h4v1h-4zM592 718h1v1h-1zM641 718h10v1h-10zM662 718h1v1h-1zM766 718h1v1h-1zM845 718h1v2h-1zM854 718h1v1h-1zM885 718h2v1h-2zM1053 718h2v1h-2zM284 719h1v1h-1zM291 719h1v1h-1zM316 719h3v1h-3zM417 719h1v1h-1zM514 719h1v1h-1zM547 719h2v1h-2zM553 719h3v1h-3zM581 719h8v1h-8zM591 719h1v1h-1zM767 719h2v1h-2zM887 719h2v1h-2zM957 719h4v1h-4zM1051 719h2v1h-2zM285 720h1v2h-1zM290 720h1v1h-1zM319 720h4v1h-4zM383 720h2v1h-2zM415 720h2v1h-2zM515 720h1v1h-1zM525 720h8v1h-8zM545 720h2v1h-2zM556 720h2v1h-2zM579 720h2v1h-2zM589 720h2v1h-2zM769 720h2v1h-2zM844 720h1v1h-1zM889 720h2v1h-2zM952 720h5v1h-5zM961 720h5v1h-5zM1049 720h2v1h-2zM289 721h1v1h-1zM323 721h4v1h-4zM382 721h1v1h-1zM385 721h2v1h-2zM410 721h5v1h-5zM516 721h1v1h-1zM523 721h2v1h-2zM533 721h12v1h-12zM558 721h12v1h-12zM577 721h2v1h-2zM771 721h2v1h-2zM843 721h1v1h-1zM891 721h2v1h-2zM948 721h4v1h-4zM966 721h6v1h-6zM1047 721h2v1h-2zM286 722h3v1h-3zM327 722h3v1h-3zM381 722h1v1h-1zM387 722h2v1h-2zM406 722h4v1h-4zM517 722h1v1h-1zM521 722h2v1h-2zM570 722h4v1h-4zM576 722h1v1h-1zM773 722h3v1h-3zM827 722h5v1h-5zM842 722h1v2h-1zM893 722h1v1h-1zM944 722h4v1h-4zM972 722h8v1h-8zM1030 722h2v1h-2zM1045 722h2v1h-2zM330 723h2v1h-2zM380 723h1v2h-1zM389 723h2v1h-2zM404 723h2v1h-2zM518 723h3v1h-3zM574 723h2v1h-2zM776 723h3v1h-3zM792 723h22v1h-22zM823 723h4v1h-4zM832 723h1v1h-1zM894 723h10v1h-10zM933 723h11v1h-11zM980 723h4v1h-4zM1028 723h2v1h-2zM1032 723h3v1h-3zM1042 723h3v1h-3zM332 724h3v1h-3zM352 724h9v1h-9zM391 724h3v1h-3zM402 724h2v1h-2zM779 724h4v1h-4zM784 724h8v1h-8zM814 724h9v1h-9zM833 724h2v1h-2zM841 724h1v1h-1zM904 724h1v1h-1zM931 724h2v1h-2zM983 724h1v1h-1zM1026 724h2v1h-2zM1035 724h3v1h-3zM1040 724h2v1h-2zM335 725h6v1h-6zM345 725h7v1h-7zM361 725h2v1h-2zM379 725h1v2h-1zM394 725h4v1h-4zM400 725h2v1h-2zM783 725h1v1h-1zM835 725h1v1h-1zM840 725h1v2h-1zM905 725h1v1h-1zM928 725h3v1h-3zM984 725h1v1h-1zM1024 725h2v1h-2zM1038 725h2v1h-2zM341 726h4v1h-4zM363 726h1v1h-1zM398 726h2v1h-2zM836 726h1v1h-1zM906 726h1v1h-1zM926 726h2v1h-2zM985 726h1v1h-1zM1020 726h4v1h-4zM364 727h2v1h-2zM378 727h1v2h-1zM837 727h3v1h-3zM907 727h1v1h-1zM925 727h1v1h-1zM986 727h1v1h-1zM1006 727h5v1h-5zM1016 727h4v1h-4zM366 728h2v1h-2zM908 728h2v1h-2zM923 728h2v1h-2zM987 728h1v1h-1zM1005 728h1v1h-1zM1011 728h5v1h-5zM368 729h1v1h-1zM377 729h1v1h-1zM910 729h1v1h-1zM922 729h1v1h-1zM988 729h1v2h-1zM1003 729h2v1h-2zM369 730h2v1h-2zM376 730h1v2h-1zM911 730h3v1h-3zM921 730h1v1h-1zM1002 730h1v1h-1zM371 731h1v1h-1zM914 731h4v1h-4zM919 731h2v1h-2zM989 731h1v1h-1zM1000 731h2v1h-2zM372 732h1v1h-1zM375 732h1v2h-1zM918 732h1v1h-1zM990 732h10v1h-10zM373 733h2v1h-2z" fill="#1E90FF"/>
</g>
<text x="1696.8" y="48" font-size="9.8" fill="#000" textLength="28.4" lengthAdjust="spacingAndGlyphs" >4116.5</text>
<text x="1696.8" y="81" font-size="9.8" fill="#000" textLength="28.4" lengthAdjust="spacingAndGlyphs" >4092.0</text>
<text x="1696.8" y="114" font-size="9.8" fill="#000" textLength="28.4" lengthAdjust="spacingAndGlyphs" >4068.0</text>
<text x="1696.8" y="147" font-size="9.8" fill="#000" textLength="28.4" lengthAdjust="spacingAndGlyphs" >4043.5</text>
<text x="1696.8" y="180" font-size="9.8" fill="#000" textLength="28.4" lengthAdjust="spacingAndGlyphs" >4019.0</text>
<text x="1696.8" y="213" font-size="9.8" fill="#000" textLength="28.4" lengthAdjust="spacingAndGlyphs" >3994.5</text>
<text x="1696.8" y="246" font-size="9.8" fill="#000" textLength="28.4" lengthAdjust="spacingAndGlyphs" >3970.0</text>
<text x="1696.8" y="279" font-size="9.8" fill="#000" textLength="28.4" lengthAdjust="spacingAndGlyphs" >3946.0</text>
<text x="1696.8" y="312" font-size="9.8" fill="#000" textLength="28.4" lengthAdjust="spacingAndGlyphs" >3921.5</text>
<text x="1696.8" y="345" font-size="9.8" fill="#000" textLength="28.4" lengthAdjust="spacingAndGlyphs" >3897.0</text>
<text x="1696.8" y="378" font-size="9.8" fill="#000" textLength="28.4" lengthAdjust="spacingAndGlyphs" >3872.5</text>
<text x="1696.8" y="411" font-size="9.8" fill="#000" textLength="28.4" lengthAdjust="spacingAndGlyphs" >3848.5</text>
<text x="1696.8" y="444" font-size="9.8" fill="#000" textLength="28.4" lengthAdjust="spacingAndGlyphs" >3824.0</text>
<text x="1696.8" y="477" font-size="9.8" fill="#000" textLength="28.4" lengthAdjust="spacingAndGlyphs" >3799.5</text>
<text x="1696.8" y="510" font-size="9.8" fill="#000" textLength="28.4" lengthAdjust="spacingAndGlyphs" >3775.0</text>
<text x="1696.8" y="543" font-size="9.8" fill="#000" textLength="28.4" lengthAdjust="spacingAndGlyphs" >3750.5</text>
<g shape-rendering="crispEdges">
<rect x="1693" y="76" width="36" height="11" fill="#000"/>
<rect x="1693" y="149" width="36" height="11" fill="#00F977"/>
<rect x="1693" y="216" width="36" height="11" fill="#1E90FF"/>
<rect x="1693" y="316" width="36" height="11" fill="#4169E1"/>
</g>
<text x="1696.8" y="85" font-size="9.8" fill="#fff" textLength="28.4" lengthAdjust="spacingAndGlyphs" >4089.7</text>
<text x="1696.8" y="158" font-size="9.8" fill="#fff" textLength="28.4" lengthAdjust="spacingAndGlyphs" >4035.0</text>
<text x="1696.8" y="225" font-size="9.8" fill="#fff" textLength="28.4" lengthAdjust="spacingAndGlyphs" >3985.0</text>
<text x="1696.8" y="325" font-size="9.8" fill="#fff" textLength="28.4" lengthAdjust="spacingAndGlyphs" >3911.0</text>
<text x="1694.8" y="555" font-size="9.8" fill="#000" textLength="23" lengthAdjust="spacingAndGlyphs" >56.36</text>
<text x="1694.8" y="628" font-size="9.8" fill="#000" textLength="18.2" lengthAdjust="spacingAndGlyphs" >0.00</text>
<text x="1694.8" y="654" font-size="9.8" fill="#000" textLength="26" lengthAdjust="spacingAndGlyphs" >-23.78</text>
<text x="1695" y="670" font-size="9.8" fill="#000" textLength="14.6" lengthAdjust="spacingAndGlyphs" >100</text>
<text x="1694.8" y="697" font-size="9.8" fill="#000" textLength="9.7" lengthAdjust="spacingAndGlyphs" >70</text>
<text x="1694.8" y="741" font-size="9.8" fill="#000" textLength="9.7" lengthAdjust="spacingAndGlyphs" >30</text>
<text x="1694.8" y="768" font-size="9.8" fill="#000" textLength="4.8" lengthAdjust="spacingAndGlyphs" >0</text>
<path d="M9 41 h7 l-3.5 4 z" fill="#000" shape-rendering="crispEdges"/>
<text x="20.8" y="46" font-size="9.8" fill="#000" textLength="192.5" lengthAdjust="spacingAndGlyphs" xml:space="preserve">CHINA300-,H4&#160;&#160;4087.7 4104.8 4076.4 4089.7</text>
<text x="10.2" y="557" font-size="9.8" fill="#000" textLength="117.4" lengthAdjust="spacingAndGlyphs" >MACD(12,26,9) 31.23 26.01</text>
<text x="10" y="672" font-size="9.8" fill="#000" textLength="67.5" lengthAdjust="spacingAndGlyphs" >RSI(14) 66.1231</text>
<text transform="translate(5,784) scale(0.965,1)" font-size="9.8" fill="#000">27 Aug 2019</text>
<text transform="translate(69,784) scale(0.965,1)" font-size="9.8" fill="#000">2 Sep 05:00</text>
<text transform="translate(133,784) scale(0.965,1)" font-size="9.8" fill="#000">6 Sep 05:00</text>
<text transform="translate(197,784) scale(0.965,1)" font-size="9.8" fill="#000">12 Sep 05:00</text>
<text transform="translate(261,784) scale(0.965,1)" font-size="9.8" fill="#000">19 Sep 05:00</text>
<text transform="translate(325,784) scale(0.965,1)" font-size="9.8" fill="#000">25 Sep 05:00</text>
<text transform="translate(389,784) scale(0.965,1)" font-size="9.8" fill="#000">8 Oct 05:00</text>
<text transform="translate(453,784) scale(0.965,1)" font-size="9.8" fill="#000">14 Oct 05:00</text>
<text transform="translate(517,784) scale(0.965,1)" font-size="9.8" fill="#000">18 Oct 05:00</text>
<text transform="translate(581,784) scale(0.965,1)" font-size="9.8" fill="#000">24 Oct 05:00</text>
<text transform="translate(645,784) scale(0.965,1)" font-size="9.8" fill="#000">30 Oct 05:00</text>
<text transform="translate(709,784) scale(0.965,1)" font-size="9.8" fill="#000">5 Nov 05:00</text>
<text transform="translate(773,784) scale(0.965,1)" font-size="9.8" fill="#000">11 Nov 05:00</text>
<text transform="translate(837,784) scale(0.965,1)" font-size="9.8" fill="#000">15 Nov 05:00</text>
<text transform="translate(901,784) scale(0.965,1)" font-size="9.8" fill="#000">21 Nov 05:00</text>
<text transform="translate(965,784) scale(0.965,1)" font-size="9.8" fill="#000">27 Nov 05:00</text>
<text transform="translate(1029,784) scale(0.965,1)" font-size="9.8" fill="#000">3 Dec 05:00</text>
<text transform="translate(1093,784) scale(0.965,1)" font-size="9.8" fill="#000">9 Dec 05:00</text>
<text transform="translate(1157,784) scale(0.965,1)" font-size="9.8" fill="#000">13 Dec 05:00</text>
<text transform="translate(1221,784) scale(0.965,1)" font-size="9.8" fill="#000">19 Dec 05:00</text>
<text transform="translate(1285,784) scale(0.965,1)" font-size="9.8" fill="#000">25 Dec 05:00</text>
<g fill="none" stroke="#FF2410" stroke-width="2.45" stroke-linecap="butt" stroke-linejoin="round">
<path d="M1286.2 428.4 L1273.6 437.8"/>
<path d="M1283.9 432.3 L1298.6 432.6 Q1291.5 441 1272.7 445.2"/>
<path d="M1281.5 436.9 L1285 439.9"/>
<path d="M1290.9 441.6 L1274.5 451.4"/>
<path d="M1288.6 444 L1300 444.3 Q1293.3 454.5 1273.3 458.4"/>
<path d="M1285 449.9 L1288 453.4"/>
<path d="M1317.4 429 L1319.8 431.6"/>
<path d="M1305.4 438.4 V432.8 H1332 V438.4"/>
<path d="M1315 437.2 L1304.2 444.3"/>
<path d="M1322.4 437.2 L1333 444.3"/>
<path d="M1308 446 H1329.8"/>
<path d="M1318.9 446 V457"/>
<path d="M1304.8 456.7 H1333"/>
<path d="M1335.9 434.3 H1348.6"/>
<path d="M1342.1 428.4 L1336.8 444.3 H1348.6"/>
<path d="M1343.6 437.5 V459"/>
<path d="M1335.6 451.9 L1349.2 449.3"/>
<path d="M1350.4 434.3 H1365"/>
<path d="M1349.5 440.5 H1366.2"/>
<path d="M1356.2 428.7 L1352.7 446.4 H1365 L1358.6 454"/>
<path d="M1351.5 451.4 L1362.1 458.1"/>
<path d="M1367.6 436 H1377.6"/>
<path d="M1372.9 429 V457 L1368.2 456.6"/>
<path d="M1367.4 447.2 L1377.6 443.4"/>
<path d="M1397 430.8 L1381.8 432.2 V446 Q1381.5 453 1377 458.7"/>
<path d="M1381.8 441.4 H1398.2"/>
<path d="M1391.2 441.4 V459"/>
<path d="M1414.4 428.4 V438.4"/>
<path d="M1414.4 433.1 H1429.7"/>
<path d="M1404.4 438.7 H1425.6 V447.5 H1404.4 Z"/>
<path d="M1404.7 451.6 L1400.6 458.4"/>
<path d="M1409.7 451.6 L1411.8 457.8"/>
<path d="M1417.6 451.6 L1420 457.8"/>
<path d="M1425 451.6 L1428.8 458.1"/>
</g>
<text x="1430.3" y="455.3" font-size="35" fill="#FF2410" textLength="75.5" lengthAdjust="spacingAndGlyphs">4035</text>
</svg></body></html>
